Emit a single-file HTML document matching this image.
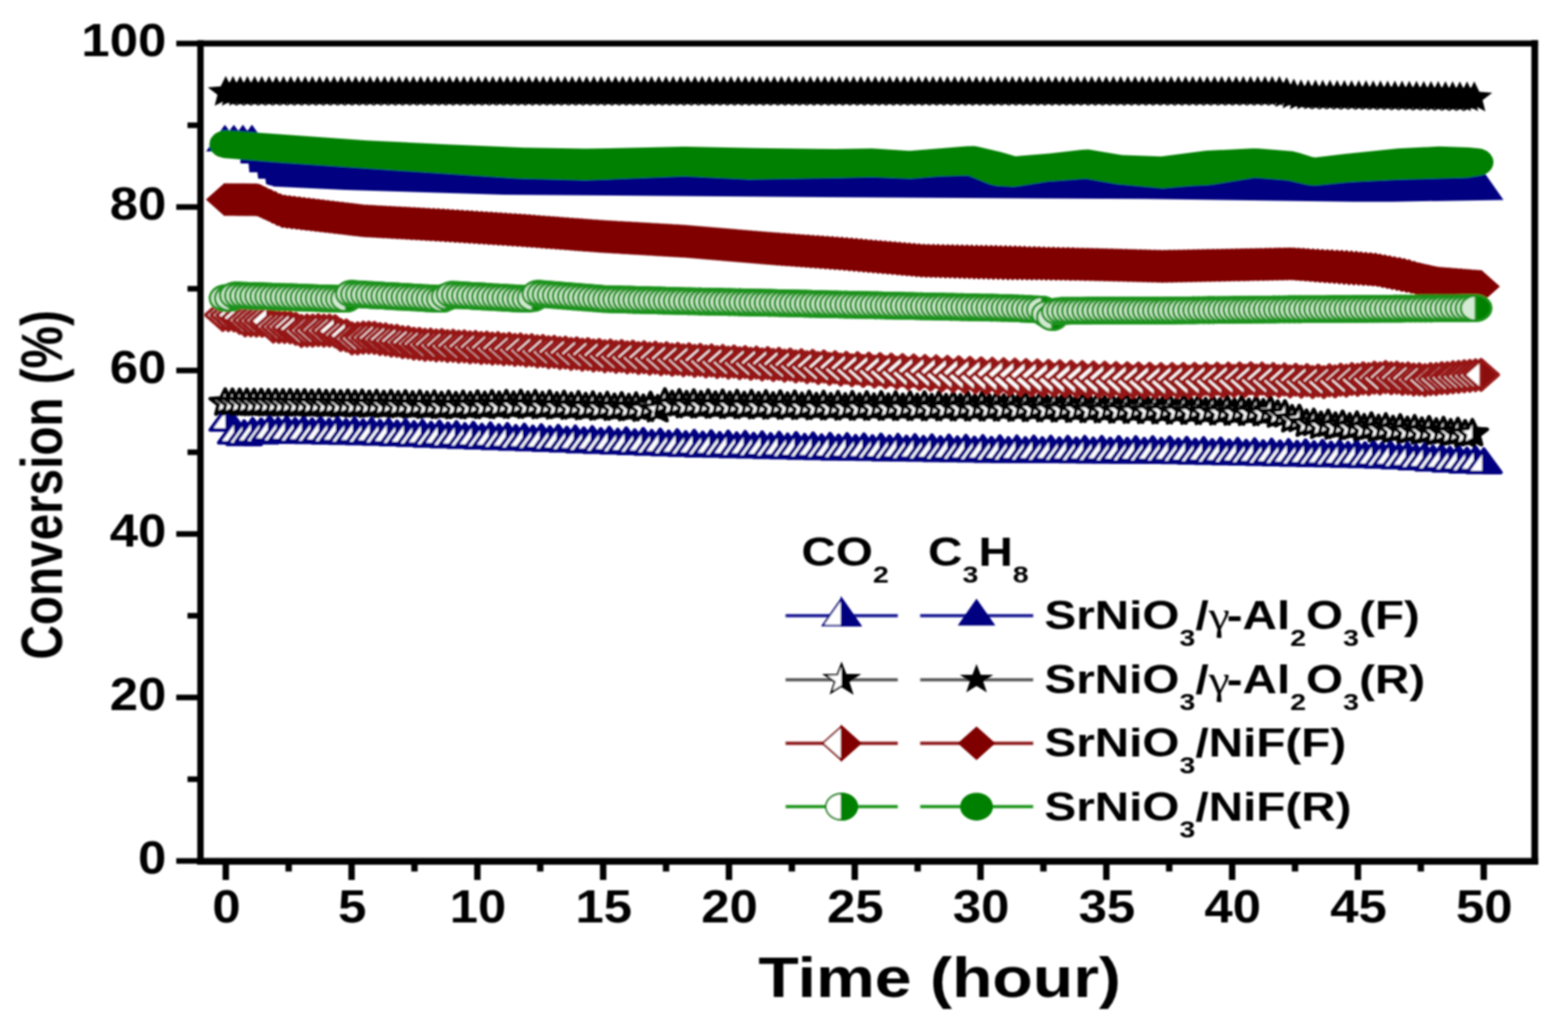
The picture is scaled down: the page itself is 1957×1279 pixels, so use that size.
<!DOCTYPE html>
<html><head><meta charset="utf-8"><title>Conversion vs Time</title>
<style>
html,body{margin:0;padding:0;background:#fff;}
body{width:1957px;height:1279px;overflow:hidden;}
svg{display:block;}
text{font-family:"Liberation Sans", Arial, Helvetica, sans-serif;font-weight:bold;fill:#000;}
</style></head><body>
<svg width="1957" height="1279" viewBox="0 0 1957 1279">
<defs><clipPath id="cr"><rect x="0" y="-40" width="40" height="80"/></clipPath><g id="hT" stroke="#000080" stroke-width="4.5" stroke-linejoin="round"><polygon fill="#fff" points="0,-14.5 21.2,14.5 -21.2,14.5"/><polygon fill="#000080" points="0,-14.5 21.2,14.5 0,14.5"/></g>
<g id="hS" stroke="#000" stroke-width="4.6" stroke-linejoin="round"><polygon fill="#fff" points="0,-17.1 5.2,-6.2 18.6,-5.3 8.4,2.4 11.5,13.8 0,7.7 -11.5,13.8 -8.4,2.4 -18.6,-5.3 -5.2,-6.2"/><polygon fill="#000" clip-path="url(#cr)" points="0,-17.1 5.2,-6.2 18.6,-5.3 8.4,2.4 11.5,13.8 0,7.7 -11.5,13.8 -8.4,2.4 -18.6,-5.3 -5.2,-6.2"/></g>
<g id="hD" stroke="#961414" stroke-width="4.3" stroke-linejoin="round"><polygon fill="#fff" points="0,-18.9 21.4,0 0,18.9 -21.4,0"/><polygon fill="#8c0a0a" points="0,-18.9 21.4,0 0,18.9"/></g>
<g id="hC" stroke="#1c921c" stroke-width="3.2"><ellipse fill="#d2ebd2" rx="18.9" ry="15.700000000000001"/><path fill="#008000" d="M0,-15.7 A18.9,15.700000000000001 0 0 1 0,15.7 Z"/></g>
<polygon id="fS" points="0,-20.6 6.4,-7.7 22.5,-6.4 10.4,2.9 13.9,16.7 0,9.5 -13.9,16.7 -10.4,2.9 -22.5,-6.4 -6.4,-7.7"/></defs>
<rect width="100%" height="100%" fill="#fff"/>
<filter id="soft" filterUnits="userSpaceOnUse" x="0" y="0" width="1957" height="1279"><feGaussianBlur stdDeviation="1.1"/></filter>
<g id="data" filter="url(#soft)">
<g><use href="#hT" x="283.5" y="522"/>
<use href="#hT" x="294.1" y="538"/>
<use href="#hT" x="304.7" y="540"/>
<use href="#hT" x="315.3" y="537.2"/>
<use href="#hT" x="325.9" y="537.7"/>
<use href="#hT" x="336.5" y="534.5"/>
<use href="#hT" x="347.1" y="536.8"/>
<use href="#hT" x="357.7" y="535"/>
<use href="#hT" x="368.3" y="537.2"/>
<use href="#hT" x="378.9" y="535.4"/>
<use href="#hT" x="389.5" y="537.6"/>
<use href="#hT" x="400.1" y="535.8"/>
<use href="#hT" x="410.7" y="538"/>
<use href="#hT" x="421.3" y="536.2"/>
<use href="#hT" x="431.9" y="538.4"/>
<use href="#hT" x="442.5" y="536.6"/>
<use href="#hT" x="453.1" y="538.8"/>
<use href="#hT" x="463.7" y="537.1"/>
<use href="#hT" x="474.3" y="539.5"/>
<use href="#hT" x="484.9" y="537.9"/>
<use href="#hT" x="495.5" y="540.3"/>
<use href="#hT" x="506.1" y="538.7"/>
<use href="#hT" x="516.7" y="541.1"/>
<use href="#hT" x="527.3" y="539.5"/>
<use href="#hT" x="537.9" y="541.9"/>
<use href="#hT" x="548.4" y="540.3"/>
<use href="#hT" x="559" y="542.7"/>
<use href="#hT" x="569.6" y="541.1"/>
<use href="#hT" x="580.2" y="543.5"/>
<use href="#hT" x="590.8" y="541.9"/>
<use href="#hT" x="601.4" y="544.3"/>
<use href="#hT" x="612" y="542.6"/>
<use href="#hT" x="622.6" y="545"/>
<use href="#hT" x="633.2" y="543.4"/>
<use href="#hT" x="643.8" y="545.8"/>
<use href="#hT" x="654.4" y="544.2"/>
<use href="#hT" x="665" y="546.6"/>
<use href="#hT" x="675.6" y="544.9"/>
<use href="#hT" x="686.2" y="547.3"/>
<use href="#hT" x="696.8" y="545.7"/>
<use href="#hT" x="707.4" y="548.1"/>
<use href="#hT" x="718" y="546.5"/>
<use href="#hT" x="728.6" y="548.9"/>
<use href="#hT" x="739.2" y="547.3"/>
<use href="#hT" x="749.8" y="549.7"/>
<use href="#hT" x="760.4" y="548.1"/>
<use href="#hT" x="771" y="550.5"/>
<use href="#hT" x="781.6" y="548.9"/>
<use href="#hT" x="792.2" y="551.3"/>
<use href="#hT" x="802.8" y="549.6"/>
<use href="#hT" x="813.4" y="552"/>
<use href="#hT" x="824" y="550.4"/>
<use href="#hT" x="834.6" y="552.8"/>
<use href="#hT" x="845.2" y="551.2"/>
<use href="#hT" x="855.8" y="553.6"/>
<use href="#hT" x="866.4" y="551.9"/>
<use href="#hT" x="877" y="554.2"/>
<use href="#hT" x="887.6" y="552.4"/>
<use href="#hT" x="898.2" y="554.6"/>
<use href="#hT" x="908.8" y="552.9"/>
<use href="#hT" x="919.4" y="555.1"/>
<use href="#hT" x="930" y="553.3"/>
<use href="#hT" x="940.6" y="555.6"/>
<use href="#hT" x="951.2" y="553.8"/>
<use href="#hT" x="961.8" y="556"/>
<use href="#hT" x="972.4" y="554.3"/>
<use href="#hT" x="983" y="556.5"/>
<use href="#hT" x="993.6" y="554.7"/>
<use href="#hT" x="1004.2" y="557"/>
<use href="#hT" x="1014.8" y="555.2"/>
<use href="#hT" x="1025.4" y="557.5"/>
<use href="#hT" x="1036" y="555.7"/>
<use href="#hT" x="1046.6" y="557.9"/>
<use href="#hT" x="1057.2" y="556.1"/>
<use href="#hT" x="1067.8" y="558.3"/>
<use href="#hT" x="1078.3" y="556.4"/>
<use href="#hT" x="1088.9" y="558.6"/>
<use href="#hT" x="1099.5" y="556.7"/>
<use href="#hT" x="1110.1" y="558.9"/>
<use href="#hT" x="1120.7" y="557"/>
<use href="#hT" x="1131.3" y="559.2"/>
<use href="#hT" x="1141.9" y="557.3"/>
<use href="#hT" x="1152.5" y="559.5"/>
<use href="#hT" x="1163.1" y="557.6"/>
<use href="#hT" x="1173.7" y="559.8"/>
<use href="#hT" x="1184.3" y="557.9"/>
<use href="#hT" x="1194.9" y="560.1"/>
<use href="#hT" x="1205.5" y="558.2"/>
<use href="#hT" x="1216.1" y="560.4"/>
<use href="#hT" x="1226.7" y="558.5"/>
<use href="#hT" x="1237.3" y="560.7"/>
<use href="#hT" x="1247.9" y="558.8"/>
<use href="#hT" x="1258.5" y="561"/>
<use href="#hT" x="1269.1" y="559"/>
<use href="#hT" x="1279.7" y="561.1"/>
<use href="#hT" x="1290.3" y="559.2"/>
<use href="#hT" x="1300.9" y="561.2"/>
<use href="#hT" x="1311.5" y="559.3"/>
<use href="#hT" x="1322.1" y="561.3"/>
<use href="#hT" x="1332.7" y="559.4"/>
<use href="#hT" x="1343.3" y="561.4"/>
<use href="#hT" x="1353.9" y="559.5"/>
<use href="#hT" x="1364.5" y="561.5"/>
<use href="#hT" x="1375.1" y="559.6"/>
<use href="#hT" x="1385.7" y="561.7"/>
<use href="#hT" x="1396.3" y="559.7"/>
<use href="#hT" x="1406.9" y="561.8"/>
<use href="#hT" x="1417.5" y="559.8"/>
<use href="#hT" x="1428.1" y="561.9"/>
<use href="#hT" x="1438.7" y="559.9"/>
<use href="#hT" x="1449.3" y="562"/>
<use href="#hT" x="1459.9" y="560.2"/>
<use href="#hT" x="1470.5" y="562.4"/>
<use href="#hT" x="1481.1" y="560.7"/>
<use href="#hT" x="1491.7" y="562.9"/>
<use href="#hT" x="1502.3" y="561.1"/>
<use href="#hT" x="1512.9" y="563.4"/>
<use href="#hT" x="1523.5" y="561.6"/>
<use href="#hT" x="1534.1" y="563.8"/>
<use href="#hT" x="1544.7" y="562.1"/>
<use href="#hT" x="1555.3" y="564.3"/>
<use href="#hT" x="1565.9" y="562.5"/>
<use href="#hT" x="1576.5" y="564.8"/>
<use href="#hT" x="1587.1" y="563"/>
<use href="#hT" x="1597.6" y="565.2"/>
<use href="#hT" x="1608.2" y="563.5"/>
<use href="#hT" x="1618.8" y="565.7"/>
<use href="#hT" x="1629.4" y="563.9"/>
<use href="#hT" x="1640" y="566.1"/>
<use href="#hT" x="1650.6" y="564.4"/>
<use href="#hT" x="1661.2" y="566.6"/>
<use href="#hT" x="1671.8" y="564.8"/>
<use href="#hT" x="1682.4" y="567"/>
<use href="#hT" x="1693" y="565.2"/>
<use href="#hT" x="1703.6" y="567.4"/>
<use href="#hT" x="1714.2" y="565.7"/>
<use href="#hT" x="1724.8" y="567.9"/>
<use href="#hT" x="1735.4" y="566.3"/>
<use href="#hT" x="1746" y="569"/>
<use href="#hT" x="1756.6" y="567.6"/>
<use href="#hT" x="1767.2" y="570.3"/>
<use href="#hT" x="1777.8" y="569"/>
<use href="#hT" x="1788.4" y="571.7"/>
<use href="#hT" x="1799" y="570.3"/>
<use href="#hT" x="1809.6" y="573"/>
<use href="#hT" x="1820.2" y="571.7"/>
<use href="#hT" x="1830.8" y="574.2"/>
<use href="#hT" x="1841.4" y="572.6"/>
<use href="#hT" x="1852" y="575"/></g>
<path fill="#000080" d="M257.2,189 L280.2,156.2 L281.2,156.2 L286.2,163.3 L291.2,156.5 L292.2,155.9 L297.2,163.1 L298.2,162.5 L303.2,155.6 L308.2,162.8 L309.2,162.9 L314.2,155.8 L315.2,156.6 L333.2,182.3 L334.2,181.9 L335.2,182.5 L342.2,192.5 L343.2,192.1 L345.2,189.8 L352.2,199.8 L355.2,196.8 L356.2,198.2 L357.2,198.5 L358.2,197.7 L359.2,199.1 L360.2,199.4 L361.2,198.6 L362.2,200 L363.2,200.3 L364.2,199.5 L365.2,200.9 L366.2,200.7 L367.2,199.9 L368.2,201.3 L370.2,200 L371.2,201.4 L373.2,200.1 L374.2,201.6 L376.2,200.3 L377.2,201.7 L379.2,200.4 L380.2,201.8 L382.2,200.5 L383.2,202 L385.2,200.7 L386.2,202.1 L388.2,200.8 L389.2,202.2 L391.2,200.9 L392.2,202.3 L394.2,201.1 L395.2,202.5 L397.2,201.2 L398.2,202.6 L400.2,201.3 L401.2,202.7 L403.2,201.5 L404.2,202.9 L406.2,201.6 L407.2,203 L409.2,201.7 L410.2,203.1 L412.2,201.8 L413.2,203.3 L415.2,202 L416.2,203.4 L418.2,202.1 L419.2,203.5 L421.2,202.2 L422.2,203.7 L424.2,202.4 L425.2,203.8 L427.2,202.5 L428.2,203.9 L430.2,202.6 L431.2,204.1 L433.2,202.8 L434.2,204.2 L435.2,203.9 L436.2,202.9 L437.2,204.3 L438.2,204 L439.2,203 L440.2,204.5 L441.2,204.2 L442.2,203.2 L443.2,204.6 L444.2,204.3 L445.2,203.3 L446.2,204.7 L447.2,204.5 L448.2,203.4 L449.2,204.9 L450.2,204.6 L451.2,203.6 L452.2,205 L453.2,204.7 L454.2,203.7 L455.2,205.1 L456.2,204.8 L457.2,203.8 L458.2,205.2 L459.2,204.9 L460.2,203.9 L461.2,205.3 L462.2,205 L463.2,204 L464.2,205.4 L465.2,205.1 L466.2,204 L467.2,205.5 L468.2,205.2 L469.2,204.1 L470.2,205.5 L471.2,205.3 L472.2,204.2 L473.2,205.6 L474.2,205.4 L475.2,204.3 L476.2,205.7 L477.2,205.5 L478.2,204.4 L479.2,205.8 L480.2,205.5 L481.2,204.5 L482.2,205.9 L483.2,205.6 L484.2,204.5 L485.2,206 L486.2,205.7 L487.2,204.6 L488.2,206.1 L489.2,205.8 L490.2,204.7 L491.2,206.1 L492.2,205.9 L493.2,204.8 L494.2,206.2 L495.2,206 L496.2,204.9 L497.2,206.3 L498.2,206.1 L499.2,205 L500.2,206.4 L501.2,206.2 L502.2,205.1 L503.2,206.5 L504.2,206.3 L505.2,205.1 L506.2,206.6 L507.2,206.4 L508.2,205.2 L509.2,206.6 L510.2,206.5 L511.2,205.3 L512.2,206.7 L513.2,206.5 L514.2,205.4 L515.2,206.8 L516.2,206.6 L517.2,205.5 L518.2,206.9 L519.2,206.7 L520.2,205.6 L521.2,207 L522.2,206.8 L523.2,205.6 L524.2,207.1 L525.2,206.9 L526.2,205.7 L527.2,207.2 L528.2,207 L529.2,205.8 L530.2,207.2 L531.2,207.1 L532.2,205.9 L533.2,207.3 L534.2,207.2 L535.2,206 L536.2,207.4 L537.2,207.3 L538.2,206.1 L539.2,207.5 L540.2,207.4 L541.2,206.2 L542.2,207.6 L543.2,207.5 L544.2,206.2 L545.2,207.7 L546.2,207.5 L547.2,206.3 L548.2,207.8 L549.2,207.6 L550.2,206.4 L551.2,207.8 L552.2,207.7 L553.2,206.5 L554.2,207.9 L555.2,207.8 L556.2,206.6 L557.2,208 L558.2,207.9 L559.2,206.7 L560.2,208.1 L561.2,208 L562.2,206.8 L563.2,208.2 L564.2,208.1 L565.2,206.9 L566.2,208.3 L567.2,208.2 L568.2,207 L569.2,208.4 L570.2,208.3 L571.2,207 L572.2,208.5 L573.2,208.4 L574.2,207.1 L575.2,208.6 L576.2,208.5 L577.2,207.2 L578.2,208.7 L579.2,208.6 L580.2,207.3 L581.2,208.8 L582.2,208.7 L583.2,207.4 L584.2,208.8 L585.2,208.8 L586.2,207.5 L587.2,208.9 L588.2,208.9 L589.2,207.6 L590.2,209 L591.2,209 L592.2,207.7 L593.2,209.1 L594.2,209.1 L595.2,207.8 L596.2,209.2 L597.2,209.2 L598.2,207.9 L599.2,209.3 L600.2,209.3 L601.2,208 L602.2,209.4 L603.2,209.4 L604.2,208.1 L605.2,209.5 L606.2,209.5 L607.2,208.2 L608.2,209.6 L609.2,209.6 L610.2,208.3 L611.2,209.7 L612.2,209.7 L613.2,208.4 L614.2,209.8 L615.2,209.8 L616.2,208.5 L617.2,209.9 L618.2,209.9 L619.2,208.5 L620.2,210 L621.2,210 L622.2,208.6 L623.2,210.1 L624.2,210.1 L625.2,208.7 L626.2,210.2 L627.2,210.2 L628.2,208.8 L629.2,210.3 L630.2,210.3 L631.2,208.9 L632.2,210.3 L633.2,210.4 L634.2,209 L635.2,210.4 L636.2,210.5 L637.2,209.1 L638.2,210.5 L639.2,210.6 L640.2,209.2 L641.2,210.6 L642.2,210.7 L643.2,209.3 L644.2,210.7 L645.2,210.8 L646.2,209.4 L647.2,210.8 L648.2,210.9 L649.2,209.5 L650.2,210.9 L651.2,210.9 L652.2,209.5 L653.2,210.9 L654.2,211 L655.2,209.5 L656.2,211 L657.2,211 L658.2,209.6 L659.2,211 L660.2,211 L661.2,209.6 L662.2,211 L663.2,211 L664.2,209.6 L665.2,211 L666.2,211.1 L667.2,209.6 L668.2,211 L669.2,211.1 L670.2,209.7 L671.2,211.1 L672.2,211.1 L673.2,209.7 L674.2,211.1 L675.2,211.1 L676.2,209.7 L677.2,211.1 L678.2,211.2 L679.2,209.7 L680.2,211.1 L681.2,211.2 L682.2,209.8 L683.2,211.1 L684.2,211.2 L685.2,209.8 L686.2,211.2 L687.2,211.2 L688.2,209.8 L689.2,211.2 L690.2,211.3 L691.2,209.8 L692.2,211.2 L693.2,211.3 L694.2,209.9 L695.2,211.2 L696.2,211.3 L697.2,209.9 L698.2,211.2 L699.2,211.3 L700.2,209.9 L701.2,211.3 L702.2,211.4 L703.2,209.9 L704.2,211.3 L705.2,211.4 L706.2,210 L707.2,211.3 L708.2,211.4 L709.2,210 L710.2,211.3 L711.2,211.4 L712.2,210 L713.2,211.3 L714.2,211.5 L715.2,210 L716.2,211.4 L717.2,211.5 L718.2,210.1 L719.2,211.4 L720.2,211.5 L721.2,210.1 L722.2,211.4 L723.2,211.5 L724.2,210.1 L725.2,211.4 L726.2,211.6 L727.2,210.1 L728.2,211.4 L729.2,211.6 L730.2,210.2 L731.2,211.5 L732.2,211.6 L733.2,210.2 L734.2,211.5 L735.2,211.6 L736.2,210.2 L737.2,211.5 L738.2,211.7 L739.2,210.2 L740.2,211.5 L741.2,211.7 L742.2,210.3 L743.2,211.5 L744.2,211.7 L745.2,210.3 L746.2,211.6 L747.2,211.7 L748.2,210.3 L749.2,211.6 L750.2,211.8 L751.2,210.3 L752.2,211.6 L753.2,211.8 L754.2,210.4 L755.2,211.6 L756.2,211.8 L757.2,210.4 L758.2,211.6 L759.2,211.9 L760.2,210.4 L761.2,211.7 L762.2,211.9 L763.2,210.5 L764.2,211.7 L765.2,211.9 L766.2,210.5 L767.2,211.7 L768.2,211.9 L769.2,210.5 L770.2,211.7 L771.2,212 L772.2,210.5 L773.2,211.7 L774.2,212 L775.2,210.6 L776.2,211.8 L777.2,212 L778.2,210.6 L779.2,211.8 L780.2,212 L781.2,210.6 L782.2,211.8 L783.2,212.1 L784.2,210.6 L785.2,211.8 L786.2,212.1 L787.2,210.7 L788.2,211.8 L789.2,212.1 L790.2,210.7 L791.2,211.9 L792.2,212.1 L793.2,210.7 L794.2,211.9 L795.2,212.2 L796.2,210.7 L797.2,211.9 L798.2,212.2 L799.2,210.8 L800.2,211.9 L801.2,212.2 L802.2,210.8 L803.2,211.9 L804.2,212.2 L805.2,210.8 L806.2,211.9 L807.2,212.3 L808.2,210.8 L809.2,212 L810.2,212.3 L811.2,210.9 L812.2,212 L813.2,212.3 L814.2,210.9 L815.2,212 L816.2,212.3 L817.2,210.9 L818.2,212 L819.2,212.4 L820.2,210.9 L821.2,212 L822.2,212.4 L823.2,211 L824.2,212.1 L825.2,212.4 L826.2,211 L827.2,212.1 L828.2,212.4 L829.2,211 L830.2,212.1 L831.2,212.5 L832.2,211 L834.2,212.5 L835.2,211.1 L837.2,212.5 L838.2,211.1 L840.2,212.5 L841.2,211.1 L843.2,212.6 L844.2,211.1 L846.2,212.6 L847.2,211.2 L849.2,212.6 L850.2,211.2 L852.2,212.6 L853.2,211.2 L855.2,212.7 L856.2,211.2 L858.2,212.7 L859.2,211.3 L861.2,212.7 L862.2,211.3 L864.2,212.7 L865.2,211.3 L867.2,212.8 L868.2,211.3 L870.2,212.8 L871.2,211.4 L873.2,212.8 L874.2,211.4 L876.2,212.8 L877.2,211.4 L879.2,212.9 L880.2,211.4 L882.2,212.9 L883.2,211.5 L885.2,212.9 L886.2,211.5 L888.2,212.9 L889.2,211.5 L891.2,213 L892.2,211.5 L894.2,213 L895.2,211.6 L897.2,213 L898.2,211.6 L900.2,213 L901.2,211.6 L903.2,213.1 L904.2,211.6 L906.2,213.1 L907.2,211.7 L909.2,213.1 L910.2,211.7 L912.2,213.1 L913.2,211.7 L915.2,213.2 L916.2,211.7 L918.2,213.2 L919.2,211.8 L921.2,213.2 L922.2,211.8 L924.2,213.2 L925.2,211.8 L927.2,213.3 L928.2,211.8 L930.2,213.3 L931.2,211.9 L933.2,213.3 L934.2,211.9 L936.2,213.3 L937.2,211.9 L939.2,213.4 L940.2,211.9 L942.2,213.4 L943.2,212 L945.2,213.4 L946.2,212 L948.2,213.4 L949.2,212 L951.2,213.5 L952.2,212 L954.2,213.5 L955.2,212.1 L957.2,213.5 L958.2,212.1 L960.2,213.6 L961.2,212.1 L963.2,213.6 L964.2,212.2 L966.2,213.6 L967.2,212.2 L969.2,213.6 L970.2,212.2 L972.2,213.7 L973.2,212.2 L975.2,213.7 L976.2,212.3 L978.2,213.7 L979.2,212.3 L981.2,213.7 L982.2,212.3 L984.2,213.8 L985.2,212.3 L987.2,213.8 L988.2,212.4 L990.2,213.8 L991.2,212.4 L993.2,213.8 L994.2,212.4 L996.2,213.9 L997.2,212.4 L999.2,213.9 L1000.2,212.5 L1002.2,213.9 L1003.2,212.5 L1005.2,213.9 L1006.2,212.5 L1008.2,214 L1009.2,212.5 L1011.2,214 L1012.2,212.6 L1014.2,214 L1015.2,212.6 L1017.2,214 L1018.2,212.6 L1020.2,214.1 L1021.2,212.6 L1023.2,214.1 L1024.2,212.7 L1026.2,214.1 L1027.2,212.7 L1029.2,214.1 L1030.2,212.7 L1032.2,214.2 L1033.2,212.7 L1035.2,214.2 L1036.2,212.8 L1038.2,214.2 L1039.2,212.8 L1041.2,214.2 L1042.2,212.8 L1044.2,214.3 L1045.2,212.8 L1047.2,214.3 L1048.2,212.9 L1050.2,214.3 L1051.2,212.9 L1053.2,214.3 L1054.2,212.9 L1056.2,214.4 L1057.2,212.9 L1059.2,214.4 L1060.2,212.9 L1062.2,214.4 L1063.2,213 L1065.2,214.4 L1066.2,213 L1068.2,214.4 L1069.2,213 L1071.2,214.5 L1072.2,213 L1074.2,214.5 L1075.2,213 L1077.2,214.5 L1078.2,213.1 L1080.2,214.5 L1081.2,213.1 L1083.2,214.5 L1084.2,213.1 L1086.2,214.6 L1087.2,213.1 L1089.2,214.6 L1090.2,213.1 L1092.2,214.6 L1093.2,213.2 L1095.2,214.6 L1096.2,213.2 L1098.2,214.6 L1099.2,213.2 L1101.2,214.7 L1102.2,213.2 L1104.2,214.7 L1105.2,213.2 L1107.2,214.7 L1108.2,213.3 L1110.2,214.7 L1111.2,213.3 L1113.2,214.7 L1114.2,213.3 L1116.2,214.8 L1117.2,213.3 L1119.2,214.8 L1120.2,213.3 L1122.2,214.8 L1123.2,213.4 L1125.2,214.8 L1126.2,213.4 L1128.2,214.8 L1129.2,213.4 L1131.2,214.9 L1132.2,213.4 L1134.2,214.9 L1135.2,213.4 L1137.2,214.9 L1138.2,213.5 L1140.2,214.9 L1141.2,213.5 L1143.2,214.9 L1144.2,213.5 L1146.2,215 L1147.2,213.5 L1149.2,215 L1150.2,213.5 L1152.2,215 L1153.2,213.6 L1155.2,215 L1156.2,213.6 L1158.2,215 L1159.2,213.6 L1161.2,215.1 L1162.2,213.6 L1164.2,215.1 L1165.2,213.6 L1167.2,215.1 L1168.2,213.7 L1170.2,215.1 L1171.2,213.7 L1173.2,215.1 L1174.2,213.7 L1176.2,215.2 L1177.2,213.7 L1179.2,215.2 L1180.2,213.7 L1182.2,215.2 L1183.2,213.8 L1185.2,215.2 L1186.2,213.8 L1188.2,215.2 L1189.2,213.8 L1191.2,215.3 L1192.2,213.8 L1194.2,215.3 L1195.2,213.9 L1197.2,215.3 L1198.2,213.9 L1200.2,215.3 L1201.2,213.9 L1203.2,215.3 L1204.2,213.9 L1206.2,215.4 L1207.2,213.9 L1209.2,215.4 L1210.2,214 L1212.2,215.4 L1213.2,214 L1215.2,215.4 L1216.2,214 L1218.2,215.4 L1219.2,214 L1221.2,215.5 L1222.2,214 L1223.2,214.4 L1224.2,215.5 L1225.2,214.1 L1226.2,214.4 L1227.2,215.5 L1228.2,214.1 L1229.2,214.4 L1230.2,215.5 L1231.2,214.1 L1232.2,214.4 L1233.2,215.5 L1234.2,214.1 L1235.2,214.4 L1236.2,215.6 L1237.2,214.1 L1238.2,214.5 L1239.2,215.6 L1240.2,214.2 L1241.2,214.5 L1242.2,215.6 L1243.2,214.2 L1244.2,214.5 L1245.2,215.6 L1246.2,214.2 L1247.2,214.5 L1248.2,215.6 L1249.2,214.2 L1250.2,214.5 L1251.2,215.7 L1252.2,214.2 L1253.2,214.5 L1254.2,215.7 L1255.2,214.3 L1256.2,214.5 L1257.2,215.7 L1258.2,214.3 L1259.2,214.6 L1260.2,215.7 L1261.2,214.3 L1262.2,214.6 L1263.2,215.7 L1264.2,214.3 L1265.2,214.6 L1266.2,215.8 L1267.2,214.3 L1268.2,214.6 L1269.2,215.8 L1270.2,214.4 L1271.2,214.6 L1272.2,215.8 L1273.2,214.4 L1274.2,214.6 L1275.2,215.8 L1276.2,214.4 L1277.2,214.6 L1278.2,215.8 L1279.2,214.4 L1280.2,214.7 L1281.2,215.9 L1282.2,214.4 L1283.2,214.7 L1284.2,215.9 L1285.2,214.5 L1286.2,214.7 L1287.2,215.9 L1288.2,214.5 L1289.2,214.7 L1290.2,215.9 L1291.2,214.5 L1292.2,214.7 L1293.2,215.9 L1294.2,214.5 L1295.2,214.7 L1296.2,216 L1297.2,214.5 L1298.2,214.7 L1299.2,216 L1300.2,214.6 L1301.2,214.8 L1302.2,216 L1303.2,214.6 L1304.2,214.8 L1305.2,216 L1306.2,214.6 L1307.2,214.8 L1308.2,216 L1309.2,214.6 L1310.2,214.8 L1311.2,216.1 L1312.2,214.6 L1313.2,214.8 L1314.2,216.1 L1315.2,214.7 L1316.2,214.8 L1317.2,216.1 L1318.2,214.7 L1319.2,214.8 L1320.2,216.1 L1321.2,214.7 L1322.2,214.9 L1323.2,216.1 L1324.2,214.7 L1325.2,214.9 L1326.2,216.2 L1327.2,214.7 L1328.2,214.9 L1329.2,216.2 L1330.2,214.8 L1331.2,214.9 L1332.2,216.2 L1333.2,214.8 L1334.2,214.9 L1335.2,216.2 L1336.2,214.8 L1337.2,214.9 L1338.2,216.2 L1339.2,214.8 L1340.2,214.9 L1341.2,216.3 L1342.2,214.8 L1343.2,215 L1344.2,216.3 L1345.2,214.9 L1346.2,215 L1347.2,216.3 L1348.2,214.9 L1349.2,215 L1350.2,216.3 L1351.2,214.9 L1352.2,215 L1353.2,216.3 L1354.2,214.9 L1355.2,215 L1356.2,216.4 L1357.2,214.9 L1358.2,215 L1359.2,216.4 L1360.2,215 L1361.2,215 L1362.2,216.4 L1363.2,215 L1364.2,215.1 L1365.2,216.4 L1366.2,215 L1367.2,215.1 L1368.2,216.4 L1369.2,215 L1370.2,215.1 L1371.2,216.5 L1372.2,215 L1373.2,215.1 L1374.2,216.5 L1375.2,215.1 L1376.2,215.1 L1377.2,216.5 L1378.2,215.1 L1379.2,215.1 L1380.2,216.5 L1381.2,215.1 L1382.2,215.1 L1383.2,216.5 L1384.2,215.1 L1385.2,215.2 L1386.2,216.6 L1387.2,215.1 L1388.2,215.2 L1389.2,216.6 L1390.2,215.2 L1391.2,215.2 L1392.2,216.6 L1393.2,215.2 L1394.2,215.2 L1395.2,216.6 L1396.2,215.2 L1397.2,215.2 L1398.2,216.6 L1399.2,215.2 L1400.2,215.2 L1401.2,216.7 L1402.2,215.2 L1403.2,215.2 L1404.2,216.7 L1405.2,215.3 L1406.2,215.3 L1407.2,216.7 L1408.2,215.3 L1409.2,215.3 L1410.2,216.7 L1411.2,215.3 L1412.2,215.3 L1413.2,216.7 L1414.2,215.3 L1415.2,215.3 L1416.2,216.7 L1417.2,215.3 L1418.2,215.3 L1419.2,216.7 L1420.2,215.4 L1421.2,215.3 L1422.2,216.8 L1423.2,215.4 L1424.2,215.3 L1425.2,216.8 L1426.2,215.4 L1427.2,215.4 L1428.2,216.8 L1429.2,215.4 L1430.2,215.4 L1431.2,216.8 L1432.2,215.4 L1433.2,215.4 L1434.2,216.8 L1435.2,215.5 L1436.2,215.4 L1437.2,216.8 L1438.2,215.5 L1439.2,215.4 L1440.2,216.8 L1441.2,215.5 L1442.2,215.4 L1443.2,216.9 L1444.2,215.5 L1445.2,215.4 L1446.2,216.9 L1447.2,215.5 L1448.2,215.5 L1449.2,216.9 L1450.2,215.6 L1451.2,215.5 L1452.2,216.9 L1453.2,215.6 L1454.2,215.5 L1455.2,216.9 L1456.2,215.6 L1457.2,215.5 L1458.2,217 L1459.2,215.7 L1460.2,215.6 L1461.2,217 L1462.2,215.7 L1463.2,215.6 L1464.2,217 L1465.2,215.8 L1466.2,215.7 L1467.2,217.1 L1468.2,215.8 L1469.2,215.7 L1470.2,217.1 L1471.2,215.9 L1472.2,215.7 L1473.2,217.2 L1474.2,215.9 L1475.2,215.8 L1476.2,217.2 L1477.2,215.9 L1478.2,215.8 L1479.2,217.2 L1480.2,216 L1481.2,215.8 L1482.2,217.3 L1483.2,216 L1484.2,215.9 L1485.2,217.3 L1486.2,216.1 L1487.2,215.9 L1488.2,217.3 L1489.2,216.1 L1490.2,215.9 L1491.2,217.4 L1492.2,216.1 L1493.2,216 L1494.2,217.4 L1495.2,216.2 L1496.2,216 L1497.2,217.4 L1498.2,216.2 L1499.2,216.1 L1500.2,217.5 L1501.2,216.3 L1502.2,216.1 L1503.2,217.5 L1504.2,216.3 L1505.2,216.1 L1506.2,217.5 L1507.2,216.4 L1508.2,216.2 L1509.2,217.6 L1510.2,216.4 L1511.2,216.2 L1512.2,217.6 L1513.2,216.4 L1514.2,216.2 L1515.2,217.7 L1516.2,216.5 L1517.2,216.3 L1518.2,217.7 L1519.2,216.5 L1520.2,216.3 L1521.2,217.7 L1522.2,216.6 L1523.2,216.3 L1524.2,217.8 L1525.2,216.6 L1526.2,216.4 L1527.2,217.8 L1528.2,216.6 L1529.2,216.4 L1530.2,217.8 L1531.2,216.7 L1532.2,216.4 L1533.2,217.9 L1534.2,216.7 L1535.2,216.5 L1536.2,217.9 L1537.2,216.8 L1538.2,216.5 L1539.2,217.9 L1540.2,216.8 L1541.2,216.6 L1542.2,218 L1543.2,216.9 L1544.2,216.6 L1545.2,218 L1546.2,216.9 L1547.2,216.6 L1548.2,218 L1549.2,216.9 L1550.2,216.7 L1551.2,218.1 L1552.2,217 L1553.2,216.7 L1554.2,218.1 L1555.2,217 L1556.2,216.7 L1557.2,218.2 L1558.2,217.1 L1559.2,216.8 L1560.2,218.2 L1561.2,217.1 L1562.2,216.8 L1563.2,218.2 L1564.2,217.1 L1565.2,216.8 L1566.2,218.3 L1567.2,217.2 L1568.2,216.9 L1569.2,218.3 L1570.2,217.2 L1571.2,216.9 L1572.2,218.3 L1573.2,217.3 L1574.2,216.9 L1575.2,218.4 L1576.2,217.3 L1577.2,217 L1578.2,218.4 L1580.2,217 L1581.2,218.4 L1583.2,217.1 L1584.2,218.5 L1586.2,217.1 L1587.2,218.5 L1589.2,217.1 L1590.2,218.6 L1592.2,217.2 L1593.2,218.6 L1595.2,217.2 L1596.2,218.6 L1598.2,217.2 L1599.2,218.7 L1601.2,217.3 L1602.2,218.7 L1604.2,217.3 L1605.2,218.7 L1607.2,217.3 L1608.2,218.8 L1610.2,217.4 L1611.2,218.8 L1613.2,217.4 L1614.2,218.8 L1616.2,217.4 L1617.2,218.9 L1619.2,217.5 L1620.2,218.9 L1622.2,217.5 L1623.2,218.9 L1625.2,217.6 L1626.2,219 L1628.2,217.6 L1629.2,219 L1631.2,217.6 L1632.2,219.1 L1634.2,217.7 L1635.2,219.1 L1637.2,217.7 L1638.2,219.1 L1640.2,217.7 L1641.2,219.2 L1643.2,217.8 L1644.2,219.2 L1646.2,217.8 L1647.2,219.2 L1649.2,217.8 L1650.2,219.3 L1652.2,217.9 L1653.2,219.3 L1655.2,217.9 L1656.2,219.3 L1658.2,217.9 L1659.2,219.4 L1661.2,218 L1662.2,219.4 L1664.2,218 L1665.2,219.4 L1667.2,218.1 L1668.2,219.5 L1670.2,218.1 L1671.2,219.5 L1673.2,218.1 L1674.2,219.6 L1676.2,218.2 L1677.2,219.6 L1679.2,218.2 L1680.2,219.6 L1682.2,218.2 L1683.2,219.7 L1685.2,218.3 L1686.2,219.7 L1688.2,218.3 L1689.2,219.7 L1691.2,218.3 L1692.2,219.8 L1694.2,218.4 L1695.2,219.8 L1697.2,218.4 L1698.2,219.8 L1700.2,218.4 L1701.2,219.9 L1703.2,218.5 L1704.2,219.9 L1706.2,218.5 L1707.2,219.9 L1709.2,218.6 L1710.2,220 L1712.2,218.6 L1713.2,220 L1715.2,218.6 L1716.2,220 L1718.2,218.5 L1719.2,220 L1721.2,218.5 L1722.2,219.9 L1724.2,218.4 L1725.2,219.9 L1727.2,218.4 L1728.2,219.8 L1730.2,218.3 L1731.2,219.8 L1733.2,218.3 L1734.2,219.7 L1736.2,218.2 L1737.2,219.7 L1739.2,218.2 L1740.2,219.6 L1742.2,218.1 L1743.2,219.6 L1745.2,218.1 L1746.2,219.5 L1748.2,218 L1749.2,219.4 L1751.2,218 L1752.2,219.4 L1754.2,217.9 L1755.2,219.3 L1757.2,217.9 L1758.2,219.3 L1760.2,217.8 L1761.2,219.2 L1763.2,217.8 L1764.2,219.2 L1766.2,217.7 L1767.2,219.1 L1769.2,217.7 L1770.2,219.1 L1772.2,217.6 L1773.2,219 L1775.2,217.6 L1776.2,219 L1778.2,217.5 L1779.2,218.9 L1781.2,217.4 L1782.2,218.9 L1784.2,217.4 L1785.2,218.8 L1787.2,217.3 L1788.2,218.8 L1790.2,217.3 L1791.2,218.7 L1793.2,217.2 L1794.2,218.7 L1796.2,217.2 L1797.2,218.6 L1799.2,217.1 L1800.2,218.6 L1802.2,217.1 L1803.2,218.5 L1805.2,217 L1806.2,218.5 L1808.2,217 L1809.2,218.4 L1811.2,216.9 L1812.2,218.3 L1814.2,216.9 L1815.2,218.3 L1817.2,216.8 L1818.2,218.2 L1820.2,216.8 L1821.2,218.2 L1823.2,216.7 L1824.2,218.1 L1826.2,216.7 L1827.2,218.1 L1829.2,216.6 L1830.2,218 L1832.2,216.6 L1833.2,218 L1835.2,216.5 L1836.2,217.9 L1838.2,216.4 L1839.2,217.9 L1841.2,216.4 L1842.2,217.8 L1844.2,216.3 L1845.2,217.8 L1847.2,216.3 L1848.2,217.7 L1850.2,216.2 L1851.2,217.7 L1853.2,216.2 L1876.5,249.4 L1876.5,249.4 L1738.2,251.7 L1689.2,251.7 L1430.2,248.3 L1028.2,246 L629.2,243 L431.2,237 L341.2,232.7 L340.2,231.8 L338.2,231.8 L337.2,230.9 L335.2,230.9 L334.2,230 L332.2,230 L331.2,223 L322.2,223 L321.2,215 L311.2,215 L310.2,204 L300.2,204 L299.2,189 L257.2,189 Z"/>
<g><use href="#hS" x="281" y="502.8"/>
<use href="#hS" x="290" y="502.9"/>
<use href="#hS" x="299" y="503.1"/>
<use href="#hS" x="308" y="503"/>
<use href="#hS" x="317" y="503.3"/>
<use href="#hS" x="326" y="503.2"/>
<use href="#hS" x="335" y="503.6"/>
<use href="#hS" x="344" y="503.4"/>
<use href="#hS" x="353" y="503.8"/>
<use href="#hS" x="362" y="503.5"/>
<use href="#hS" x="371" y="504.1"/>
<use href="#hS" x="380" y="503.7"/>
<use href="#hS" x="389" y="504.4"/>
<use href="#hS" x="398" y="503.8"/>
<use href="#hS" x="407" y="504.6"/>
<use href="#hS" x="416" y="504"/>
<use href="#hS" x="425" y="504.9"/>
<use href="#hS" x="434" y="504.2"/>
<use href="#hS" x="442.9" y="505.1"/>
<use href="#hS" x="451.9" y="504.3"/>
<use href="#hS" x="460.9" y="505.4"/>
<use href="#hS" x="469.9" y="504.5"/>
<use href="#hS" x="478.9" y="505.7"/>
<use href="#hS" x="487.9" y="504.7"/>
<use href="#hS" x="496.9" y="506"/>
<use href="#hS" x="505.9" y="504.9"/>
<use href="#hS" x="514.9" y="506.3"/>
<use href="#hS" x="523.9" y="505.1"/>
<use href="#hS" x="532.9" y="506.6"/>
<use href="#hS" x="541.9" y="505.3"/>
<use href="#hS" x="550.9" y="506.9"/>
<use href="#hS" x="559.9" y="505.6"/>
<use href="#hS" x="568.9" y="507.1"/>
<use href="#hS" x="577.9" y="505.5"/>
<use href="#hS" x="586.9" y="507"/>
<use href="#hS" x="595.9" y="505.2"/>
<use href="#hS" x="604.9" y="506.8"/>
<use href="#hS" x="613.9" y="504.9"/>
<use href="#hS" x="622.9" y="506.6"/>
<use href="#hS" x="631.9" y="504.7"/>
<use href="#hS" x="640.9" y="506.5"/>
<use href="#hS" x="649.9" y="504.4"/>
<use href="#hS" x="658.9" y="506.6"/>
<use href="#hS" x="667.9" y="504.8"/>
<use href="#hS" x="676.9" y="507"/>
<use href="#hS" x="685.9" y="505.3"/>
<use href="#hS" x="694.9" y="507.5"/>
<use href="#hS" x="703.9" y="505.7"/>
<use href="#hS" x="712.9" y="507.9"/>
<use href="#hS" x="721.9" y="506.1"/>
<use href="#hS" x="730.9" y="508.3"/>
<use href="#hS" x="739.9" y="506.5"/>
<use href="#hS" x="748.8" y="508.8"/>
<use href="#hS" x="757.8" y="507"/>
<use href="#hS" x="766.8" y="509.2"/>
<use href="#hS" x="775.8" y="507.4"/>
<use href="#hS" x="784.8" y="509.6"/>
<use href="#hS" x="793.8" y="507.8"/>
<use href="#hS" x="802.8" y="510.4"/>
<use href="#hS" x="811.8" y="506.9"/>
<use href="#hS" x="820.8" y="511"/>
<use href="#hS" x="829.8" y="502.6"/>
<use href="#hS" x="838.8" y="505.7"/>
<use href="#hS" x="847.8" y="503.7"/>
<use href="#hS" x="856.8" y="505.9"/>
<use href="#hS" x="865.8" y="503.9"/>
<use href="#hS" x="874.8" y="506.1"/>
<use href="#hS" x="883.8" y="504.1"/>
<use href="#hS" x="892.8" y="506.4"/>
<use href="#hS" x="901.8" y="504.3"/>
<use href="#hS" x="910.8" y="506.7"/>
<use href="#hS" x="919.8" y="504.6"/>
<use href="#hS" x="928.8" y="506.9"/>
<use href="#hS" x="937.8" y="504.8"/>
<use href="#hS" x="946.8" y="507.2"/>
<use href="#hS" x="955.8" y="505"/>
<use href="#hS" x="964.8" y="507.5"/>
<use href="#hS" x="973.8" y="505.2"/>
<use href="#hS" x="982.8" y="507.7"/>
<use href="#hS" x="991.8" y="505.4"/>
<use href="#hS" x="1000.8" y="508"/>
<use href="#hS" x="1009.8" y="505.6"/>
<use href="#hS" x="1018.8" y="508.3"/>
<use href="#hS" x="1027.8" y="505.8"/>
<use href="#hS" x="1036.8" y="508.5"/>
<use href="#hS" x="1045.8" y="506"/>
<use href="#hS" x="1054.8" y="508.8"/>
<use href="#hS" x="1063.7" y="506.1"/>
<use href="#hS" x="1072.7" y="508.9"/>
<use href="#hS" x="1081.7" y="506.2"/>
<use href="#hS" x="1090.7" y="509"/>
<use href="#hS" x="1099.7" y="506.2"/>
<use href="#hS" x="1108.7" y="509.1"/>
<use href="#hS" x="1117.7" y="506.3"/>
<use href="#hS" x="1126.7" y="509.2"/>
<use href="#hS" x="1135.7" y="506.3"/>
<use href="#hS" x="1144.7" y="509.3"/>
<use href="#hS" x="1153.7" y="506.4"/>
<use href="#hS" x="1162.7" y="509.5"/>
<use href="#hS" x="1171.7" y="506.4"/>
<use href="#hS" x="1180.7" y="509.6"/>
<use href="#hS" x="1189.7" y="506.5"/>
<use href="#hS" x="1198.7" y="509.7"/>
<use href="#hS" x="1207.7" y="506.5"/>
<use href="#hS" x="1216.7" y="509.8"/>
<use href="#hS" x="1225.7" y="506.6"/>
<use href="#hS" x="1234.7" y="509.9"/>
<use href="#hS" x="1243.7" y="506.7"/>
<use href="#hS" x="1252.7" y="510"/>
<use href="#hS" x="1261.7" y="506.7"/>
<use href="#hS" x="1270.7" y="510.3"/>
<use href="#hS" x="1279.7" y="507"/>
<use href="#hS" x="1288.7" y="510.6"/>
<use href="#hS" x="1297.7" y="507.3"/>
<use href="#hS" x="1306.7" y="510.9"/>
<use href="#hS" x="1315.7" y="507.5"/>
<use href="#hS" x="1324.7" y="511.2"/>
<use href="#hS" x="1333.7" y="507.8"/>
<use href="#hS" x="1342.7" y="511.6"/>
<use href="#hS" x="1351.7" y="508.1"/>
<use href="#hS" x="1360.7" y="511.9"/>
<use href="#hS" x="1369.7" y="508.3"/>
<use href="#hS" x="1378.6" y="512.2"/>
<use href="#hS" x="1387.6" y="508.6"/>
<use href="#hS" x="1396.6" y="512.6"/>
<use href="#hS" x="1405.6" y="508.9"/>
<use href="#hS" x="1414.6" y="512.9"/>
<use href="#hS" x="1423.6" y="509.1"/>
<use href="#hS" x="1432.6" y="513.2"/>
<use href="#hS" x="1441.6" y="509.4"/>
<use href="#hS" x="1450.6" y="513.5"/>
<use href="#hS" x="1459.6" y="509.7"/>
<use href="#hS" x="1468.6" y="513.9"/>
<use href="#hS" x="1477.6" y="510.2"/>
<use href="#hS" x="1486.6" y="514.2"/>
<use href="#hS" x="1495.6" y="510.6"/>
<use href="#hS" x="1504.6" y="514.5"/>
<use href="#hS" x="1513.6" y="511"/>
<use href="#hS" x="1522.6" y="514.9"/>
<use href="#hS" x="1531.6" y="511.5"/>
<use href="#hS" x="1540.6" y="515.2"/>
<use href="#hS" x="1549.6" y="511.9"/>
<use href="#hS" x="1558.6" y="515.5"/>
<use href="#hS" x="1567.6" y="512.3"/>
<use href="#hS" x="1576.6" y="515.9"/>
<use href="#hS" x="1585.6" y="512.8"/>
<use href="#hS" x="1594.6" y="517.7"/>
<use href="#hS" x="1603.6" y="517.4"/>
<use href="#hS" x="1612.6" y="523.6"/>
<use href="#hS" x="1621.6" y="523.2"/>
<use href="#hS" x="1630.6" y="529.1"/>
<use href="#hS" x="1639.6" y="528.1"/>
<use href="#hS" x="1648.6" y="531.7"/>
<use href="#hS" x="1657.6" y="529.3"/>
<use href="#hS" x="1666.6" y="532.7"/>
<use href="#hS" x="1675.6" y="530.4"/>
<use href="#hS" x="1684.5" y="533.8"/>
<use href="#hS" x="1693.5" y="531.5"/>
<use href="#hS" x="1702.5" y="534.8"/>
<use href="#hS" x="1711.5" y="532.7"/>
<use href="#hS" x="1720.5" y="535.8"/>
<use href="#hS" x="1729.5" y="533.8"/>
<use href="#hS" x="1738.5" y="536.9"/>
<use href="#hS" x="1747.5" y="534.9"/>
<use href="#hS" x="1756.5" y="537.9"/>
<use href="#hS" x="1765.5" y="536"/>
<use href="#hS" x="1774.5" y="538.9"/>
<use href="#hS" x="1783.5" y="537.2"/>
<use href="#hS" x="1792.5" y="540"/>
<use href="#hS" x="1801.5" y="538.3"/>
<use href="#hS" x="1810.5" y="541"/>
<use href="#hS" x="1819.5" y="539.4"/>
<use href="#hS" x="1828.5" y="542.2"/>
<use href="#hS" x="1837.5" y="541"/></g>
<path fill="#000" d="M279.8,102.6 L1597.8,102.6 L1601.8,102.7 L1602.8,103.5 L1605.8,103.5 L1606.8,104.4 L1609.8,104.4 L1610.8,105.2 L1613.8,105.2 L1614.8,106.1 L1617.8,106.1 L1618.8,106.9 L1842,109.4 L1842,135.4 L1618.8,132.9 L1617.8,132.1 L1614.8,132.1 L1613.8,131.2 L1610.8,131.2 L1609.8,130.4 L1606.8,130.4 L1605.8,129.5 L1602.8,129.5 L1601.8,128.7 L1597.8,128.6 L279.8,128.6 Z"/>
<g fill="#000"><use href="#fS" x="281.8" y="115.4"/>
<use href="#fS" x="290.8" y="115.4"/>
<use href="#fS" x="299.8" y="115.4"/>
<use href="#fS" x="308.8" y="115.4"/>
<use href="#fS" x="317.8" y="115.4"/>
<use href="#fS" x="326.8" y="115.4"/>
<use href="#fS" x="335.8" y="115.4"/>
<use href="#fS" x="344.8" y="115.4"/>
<use href="#fS" x="353.9" y="115.4"/>
<use href="#fS" x="362.9" y="115.4"/>
<use href="#fS" x="371.9" y="115.4"/>
<use href="#fS" x="380.9" y="115.4"/>
<use href="#fS" x="389.9" y="115.4"/>
<use href="#fS" x="398.9" y="115.4"/>
<use href="#fS" x="407.9" y="115.4"/>
<use href="#fS" x="416.9" y="115.4"/>
<use href="#fS" x="425.9" y="115.4"/>
<use href="#fS" x="434.9" y="115.4"/>
<use href="#fS" x="443.9" y="115.4"/>
<use href="#fS" x="452.9" y="115.4"/>
<use href="#fS" x="461.9" y="115.4"/>
<use href="#fS" x="470.9" y="115.4"/>
<use href="#fS" x="480" y="115.4"/>
<use href="#fS" x="489" y="115.4"/>
<use href="#fS" x="498" y="115.4"/>
<use href="#fS" x="507" y="115.4"/>
<use href="#fS" x="516" y="115.4"/>
<use href="#fS" x="525" y="115.4"/>
<use href="#fS" x="534" y="115.4"/>
<use href="#fS" x="543" y="115.4"/>
<use href="#fS" x="552" y="115.4"/>
<use href="#fS" x="561" y="115.4"/>
<use href="#fS" x="570" y="115.4"/>
<use href="#fS" x="579" y="115.4"/>
<use href="#fS" x="588" y="115.4"/>
<use href="#fS" x="597" y="115.4"/>
<use href="#fS" x="606" y="115.4"/>
<use href="#fS" x="615.1" y="115.4"/>
<use href="#fS" x="624.1" y="115.4"/>
<use href="#fS" x="633.1" y="115.4"/>
<use href="#fS" x="642.1" y="115.4"/>
<use href="#fS" x="651.1" y="115.4"/>
<use href="#fS" x="660.1" y="115.4"/>
<use href="#fS" x="669.1" y="115.4"/>
<use href="#fS" x="678.1" y="115.4"/>
<use href="#fS" x="687.1" y="115.4"/>
<use href="#fS" x="696.1" y="115.4"/>
<use href="#fS" x="705.1" y="115.4"/>
<use href="#fS" x="714.1" y="115.4"/>
<use href="#fS" x="723.1" y="115.4"/>
<use href="#fS" x="732.1" y="115.4"/>
<use href="#fS" x="741.2" y="115.4"/>
<use href="#fS" x="750.2" y="115.4"/>
<use href="#fS" x="759.2" y="115.4"/>
<use href="#fS" x="768.2" y="115.4"/>
<use href="#fS" x="777.2" y="115.4"/>
<use href="#fS" x="786.2" y="115.4"/>
<use href="#fS" x="795.2" y="115.4"/>
<use href="#fS" x="804.2" y="115.4"/>
<use href="#fS" x="813.2" y="115.4"/>
<use href="#fS" x="822.2" y="115.4"/>
<use href="#fS" x="831.2" y="115.4"/>
<use href="#fS" x="840.2" y="115.4"/>
<use href="#fS" x="849.2" y="115.4"/>
<use href="#fS" x="858.2" y="115.4"/>
<use href="#fS" x="867.3" y="115.4"/>
<use href="#fS" x="876.3" y="115.4"/>
<use href="#fS" x="885.3" y="115.4"/>
<use href="#fS" x="894.3" y="115.4"/>
<use href="#fS" x="903.3" y="115.4"/>
<use href="#fS" x="912.3" y="115.4"/>
<use href="#fS" x="921.3" y="115.4"/>
<use href="#fS" x="930.3" y="115.4"/>
<use href="#fS" x="939.3" y="115.4"/>
<use href="#fS" x="948.3" y="115.4"/>
<use href="#fS" x="957.3" y="115.4"/>
<use href="#fS" x="966.3" y="115.4"/>
<use href="#fS" x="975.3" y="115.4"/>
<use href="#fS" x="984.3" y="115.4"/>
<use href="#fS" x="993.3" y="115.4"/>
<use href="#fS" x="1002.4" y="115.4"/>
<use href="#fS" x="1011.4" y="115.4"/>
<use href="#fS" x="1020.4" y="115.4"/>
<use href="#fS" x="1029.4" y="115.4"/>
<use href="#fS" x="1038.4" y="115.4"/>
<use href="#fS" x="1047.4" y="115.4"/>
<use href="#fS" x="1056.4" y="115.4"/>
<use href="#fS" x="1065.4" y="115.4"/>
<use href="#fS" x="1074.4" y="115.4"/>
<use href="#fS" x="1083.4" y="115.4"/>
<use href="#fS" x="1092.4" y="115.4"/>
<use href="#fS" x="1101.4" y="115.4"/>
<use href="#fS" x="1110.4" y="115.4"/>
<use href="#fS" x="1119.4" y="115.4"/>
<use href="#fS" x="1128.5" y="115.4"/>
<use href="#fS" x="1137.5" y="115.4"/>
<use href="#fS" x="1146.5" y="115.4"/>
<use href="#fS" x="1155.5" y="115.4"/>
<use href="#fS" x="1164.5" y="115.4"/>
<use href="#fS" x="1173.5" y="115.4"/>
<use href="#fS" x="1182.5" y="115.4"/>
<use href="#fS" x="1191.5" y="115.4"/>
<use href="#fS" x="1200.5" y="115.4"/>
<use href="#fS" x="1209.5" y="115.4"/>
<use href="#fS" x="1218.5" y="115.4"/>
<use href="#fS" x="1227.5" y="115.4"/>
<use href="#fS" x="1236.5" y="115.4"/>
<use href="#fS" x="1245.5" y="115.4"/>
<use href="#fS" x="1254.5" y="115.4"/>
<use href="#fS" x="1263.6" y="115.4"/>
<use href="#fS" x="1272.6" y="115.4"/>
<use href="#fS" x="1281.6" y="115.4"/>
<use href="#fS" x="1290.6" y="115.4"/>
<use href="#fS" x="1299.6" y="115.4"/>
<use href="#fS" x="1308.6" y="115.4"/>
<use href="#fS" x="1317.6" y="115.4"/>
<use href="#fS" x="1326.6" y="115.4"/>
<use href="#fS" x="1335.6" y="115.4"/>
<use href="#fS" x="1344.6" y="115.4"/>
<use href="#fS" x="1353.6" y="115.4"/>
<use href="#fS" x="1362.6" y="115.4"/>
<use href="#fS" x="1371.6" y="115.4"/>
<use href="#fS" x="1380.6" y="115.4"/>
<use href="#fS" x="1389.7" y="115.4"/>
<use href="#fS" x="1398.7" y="115.4"/>
<use href="#fS" x="1407.7" y="115.4"/>
<use href="#fS" x="1416.7" y="115.4"/>
<use href="#fS" x="1425.7" y="115.4"/>
<use href="#fS" x="1434.7" y="115.4"/>
<use href="#fS" x="1443.7" y="115.4"/>
<use href="#fS" x="1452.7" y="115.4"/>
<use href="#fS" x="1461.7" y="115.4"/>
<use href="#fS" x="1470.7" y="115.4"/>
<use href="#fS" x="1479.7" y="115.4"/>
<use href="#fS" x="1488.7" y="115.4"/>
<use href="#fS" x="1497.7" y="115.4"/>
<use href="#fS" x="1506.7" y="115.4"/>
<use href="#fS" x="1515.8" y="115.4"/>
<use href="#fS" x="1524.8" y="115.4"/>
<use href="#fS" x="1533.8" y="115.4"/>
<use href="#fS" x="1542.8" y="115.4"/>
<use href="#fS" x="1551.8" y="115.4"/>
<use href="#fS" x="1560.8" y="115.4"/>
<use href="#fS" x="1569.8" y="115.4"/>
<use href="#fS" x="1578.8" y="115.4"/>
<use href="#fS" x="1587.8" y="115.4"/>
<use href="#fS" x="1596.8" y="115.4"/>
<use href="#fS" x="1605.8" y="116.7"/>
<use href="#fS" x="1614.8" y="118.6"/>
<use href="#fS" x="1623.8" y="119.7"/>
<use href="#fS" x="1632.8" y="119.8"/>
<use href="#fS" x="1641.8" y="119.9"/>
<use href="#fS" x="1650.9" y="120.1"/>
<use href="#fS" x="1659.9" y="120.2"/>
<use href="#fS" x="1668.9" y="120.3"/>
<use href="#fS" x="1677.9" y="120.4"/>
<use href="#fS" x="1686.9" y="120.5"/>
<use href="#fS" x="1695.9" y="120.6"/>
<use href="#fS" x="1704.9" y="120.7"/>
<use href="#fS" x="1713.9" y="120.8"/>
<use href="#fS" x="1722.9" y="120.9"/>
<use href="#fS" x="1731.9" y="121"/>
<use href="#fS" x="1740.9" y="121.1"/>
<use href="#fS" x="1749.9" y="121.2"/>
<use href="#fS" x="1758.9" y="121.3"/>
<use href="#fS" x="1767.9" y="121.4"/>
<use href="#fS" x="1777" y="121.5"/>
<use href="#fS" x="1786" y="121.6"/>
<use href="#fS" x="1795" y="121.7"/>
<use href="#fS" x="1804" y="121.8"/>
<use href="#fS" x="1813" y="121.9"/>
<use href="#fS" x="1822" y="122"/>
<use href="#fS" x="1831" y="122.1"/>
<use href="#fS" x="1840" y="122.2"/></g>
<g><use href="#hD" x="278" y="393"/>
<use href="#hD" x="285" y="393.2"/>
<use href="#hD" x="292" y="393.4"/>
<use href="#hD" x="299" y="396.5"/>
<use href="#hD" x="306" y="399.7"/>
<use href="#hD" x="313.1" y="399.8"/>
<use href="#hD" x="320.1" y="400.1"/>
<use href="#hD" x="327.1" y="400.2"/>
<use href="#hD" x="334.1" y="400.6"/>
<use href="#hD" x="341.1" y="407.5"/>
<use href="#hD" x="348.1" y="407.9"/>
<use href="#hD" x="355.1" y="408"/>
<use href="#hD" x="362.1" y="408.4"/>
<use href="#hD" x="369.1" y="410.3"/>
<use href="#hD" x="376.2" y="413"/>
<use href="#hD" x="383.2" y="412.4"/>
<use href="#hD" x="390.2" y="412.5"/>
<use href="#hD" x="397.2" y="411.9"/>
<use href="#hD" x="404.2" y="412.5"/>
<use href="#hD" x="411.2" y="412.4"/>
<use href="#hD" x="418.2" y="413.2"/>
<use href="#hD" x="425.2" y="417.9"/>
<use href="#hD" x="432.2" y="418.6"/>
<use href="#hD" x="439.3" y="422.3"/>
<use href="#hD" x="446.3" y="422.2"/>
<use href="#hD" x="453.3" y="421.3"/>
<use href="#hD" x="460.3" y="421.3"/>
<use href="#hD" x="467.3" y="421.6"/>
<use href="#hD" x="474.3" y="423.1"/>
<use href="#hD" x="481.3" y="423.5"/>
<use href="#hD" x="488.3" y="425"/>
<use href="#hD" x="495.3" y="425.3"/>
<use href="#hD" x="502.4" y="426.9"/>
<use href="#hD" x="509.4" y="427.2"/>
<use href="#hD" x="516.4" y="428.8"/>
<use href="#hD" x="523.4" y="429.1"/>
<use href="#hD" x="530.4" y="430.2"/>
<use href="#hD" x="537.4" y="429.9"/>
<use href="#hD" x="544.4" y="431"/>
<use href="#hD" x="551.4" y="430.6"/>
<use href="#hD" x="558.4" y="431.8"/>
<use href="#hD" x="565.5" y="431.4"/>
<use href="#hD" x="572.5" y="432.6"/>
<use href="#hD" x="579.5" y="432.2"/>
<use href="#hD" x="586.5" y="433.4"/>
<use href="#hD" x="593.5" y="432.9"/>
<use href="#hD" x="600.5" y="434.2"/>
<use href="#hD" x="607.5" y="433.7"/>
<use href="#hD" x="614.5" y="435"/>
<use href="#hD" x="621.5" y="434.4"/>
<use href="#hD" x="628.6" y="435.8"/>
<use href="#hD" x="635.6" y="435.2"/>
<use href="#hD" x="642.6" y="436.6"/>
<use href="#hD" x="649.6" y="436"/>
<use href="#hD" x="656.6" y="437.5"/>
<use href="#hD" x="663.6" y="436.9"/>
<use href="#hD" x="670.6" y="438.5"/>
<use href="#hD" x="677.6" y="437.9"/>
<use href="#hD" x="684.6" y="439.5"/>
<use href="#hD" x="691.7" y="438.9"/>
<use href="#hD" x="698.7" y="440.5"/>
<use href="#hD" x="705.7" y="439.9"/>
<use href="#hD" x="712.7" y="441.6"/>
<use href="#hD" x="719.7" y="440.8"/>
<use href="#hD" x="726.7" y="442.6"/>
<use href="#hD" x="733.7" y="441.8"/>
<use href="#hD" x="740.7" y="443.6"/>
<use href="#hD" x="747.7" y="442.8"/>
<use href="#hD" x="754.8" y="444.6"/>
<use href="#hD" x="761.8" y="443.6"/>
<use href="#hD" x="768.8" y="445.3"/>
<use href="#hD" x="775.8" y="444.3"/>
<use href="#hD" x="782.8" y="446"/>
<use href="#hD" x="789.8" y="445"/>
<use href="#hD" x="796.8" y="446.8"/>
<use href="#hD" x="803.8" y="445.7"/>
<use href="#hD" x="810.8" y="447.5"/>
<use href="#hD" x="817.9" y="446.3"/>
<use href="#hD" x="824.9" y="448.2"/>
<use href="#hD" x="831.9" y="447"/>
<use href="#hD" x="838.9" y="448.9"/>
<use href="#hD" x="845.9" y="447.7"/>
<use href="#hD" x="852.9" y="449.6"/>
<use href="#hD" x="859.9" y="448.3"/>
<use href="#hD" x="866.9" y="450.3"/>
<use href="#hD" x="873.9" y="449"/>
<use href="#hD" x="881" y="451"/>
<use href="#hD" x="888" y="449.7"/>
<use href="#hD" x="895" y="451.8"/>
<use href="#hD" x="902" y="450.4"/>
<use href="#hD" x="909" y="452.5"/>
<use href="#hD" x="916" y="451.1"/>
<use href="#hD" x="923" y="453.2"/>
<use href="#hD" x="930" y="451.8"/>
<use href="#hD" x="937" y="453.9"/>
<use href="#hD" x="944.1" y="452.4"/>
<use href="#hD" x="951.1" y="454.7"/>
<use href="#hD" x="958.1" y="453.1"/>
<use href="#hD" x="965.1" y="455.4"/>
<use href="#hD" x="972.1" y="453.9"/>
<use href="#hD" x="979.1" y="456.3"/>
<use href="#hD" x="986.1" y="454.8"/>
<use href="#hD" x="993.1" y="457.2"/>
<use href="#hD" x="1000.1" y="455.7"/>
<use href="#hD" x="1007.2" y="458.2"/>
<use href="#hD" x="1014.2" y="456.5"/>
<use href="#hD" x="1021.2" y="459.3"/>
<use href="#hD" x="1028.2" y="457.3"/>
<use href="#hD" x="1035.2" y="460.3"/>
<use href="#hD" x="1042.2" y="458.2"/>
<use href="#hD" x="1049.2" y="461.3"/>
<use href="#hD" x="1056.2" y="458.9"/>
<use href="#hD" x="1063.2" y="462.1"/>
<use href="#hD" x="1070.3" y="459.4"/>
<use href="#hD" x="1077.3" y="462.9"/>
<use href="#hD" x="1084.3" y="460"/>
<use href="#hD" x="1091.3" y="463.7"/>
<use href="#hD" x="1098.3" y="460.6"/>
<use href="#hD" x="1105.3" y="464.5"/>
<use href="#hD" x="1112.3" y="461.2"/>
<use href="#hD" x="1119.3" y="465.3"/>
<use href="#hD" x="1126.4" y="461.7"/>
<use href="#hD" x="1133.4" y="466.1"/>
<use href="#hD" x="1140.4" y="462.3"/>
<use href="#hD" x="1147.4" y="466.8"/>
<use href="#hD" x="1154.4" y="462.9"/>
<use href="#hD" x="1161.4" y="467.6"/>
<use href="#hD" x="1168.4" y="463.4"/>
<use href="#hD" x="1175.4" y="468.4"/>
<use href="#hD" x="1182.4" y="464"/>
<use href="#hD" x="1189.5" y="469.2"/>
<use href="#hD" x="1196.5" y="464.6"/>
<use href="#hD" x="1203.5" y="470"/>
<use href="#hD" x="1210.5" y="465.2"/>
<use href="#hD" x="1217.5" y="470.8"/>
<use href="#hD" x="1224.5" y="465.8"/>
<use href="#hD" x="1231.5" y="471.6"/>
<use href="#hD" x="1238.5" y="466.4"/>
<use href="#hD" x="1245.5" y="472.4"/>
<use href="#hD" x="1252.6" y="466.9"/>
<use href="#hD" x="1259.6" y="473.2"/>
<use href="#hD" x="1266.6" y="467.5"/>
<use href="#hD" x="1273.6" y="473.6"/>
<use href="#hD" x="1280.6" y="468"/>
<use href="#hD" x="1287.6" y="474"/>
<use href="#hD" x="1294.6" y="468.5"/>
<use href="#hD" x="1301.6" y="474.3"/>
<use href="#hD" x="1308.6" y="469"/>
<use href="#hD" x="1315.7" y="474.7"/>
<use href="#hD" x="1322.7" y="469.5"/>
<use href="#hD" x="1329.7" y="475"/>
<use href="#hD" x="1336.7" y="470"/>
<use href="#hD" x="1343.7" y="475.4"/>
<use href="#hD" x="1350.7" y="470.5"/>
<use href="#hD" x="1357.7" y="475.7"/>
<use href="#hD" x="1364.7" y="471"/>
<use href="#hD" x="1371.7" y="476"/>
<use href="#hD" x="1378.8" y="471.3"/>
<use href="#hD" x="1385.8" y="476.2"/>
<use href="#hD" x="1392.8" y="471.7"/>
<use href="#hD" x="1399.8" y="476.4"/>
<use href="#hD" x="1406.8" y="472"/>
<use href="#hD" x="1413.8" y="476.5"/>
<use href="#hD" x="1420.8" y="472.3"/>
<use href="#hD" x="1427.8" y="476.7"/>
<use href="#hD" x="1434.8" y="472.6"/>
<use href="#hD" x="1441.9" y="476.9"/>
<use href="#hD" x="1448.9" y="473"/>
<use href="#hD" x="1455.9" y="476.9"/>
<use href="#hD" x="1462.9" y="472.9"/>
<use href="#hD" x="1469.9" y="476.6"/>
<use href="#hD" x="1476.9" y="472.8"/>
<use href="#hD" x="1483.9" y="476.4"/>
<use href="#hD" x="1490.9" y="472.7"/>
<use href="#hD" x="1497.9" y="476.1"/>
<use href="#hD" x="1505" y="472.6"/>
<use href="#hD" x="1512" y="475.9"/>
<use href="#hD" x="1519" y="472.5"/>
<use href="#hD" x="1526" y="475.6"/>
<use href="#hD" x="1533" y="472.4"/>
<use href="#hD" x="1540" y="475.4"/>
<use href="#hD" x="1547" y="472.2"/>
<use href="#hD" x="1554" y="475.1"/>
<use href="#hD" x="1561" y="472.1"/>
<use href="#hD" x="1568.1" y="474.9"/>
<use href="#hD" x="1575.1" y="472.4"/>
<use href="#hD" x="1582.1" y="475.3"/>
<use href="#hD" x="1589.1" y="472.9"/>
<use href="#hD" x="1596.1" y="475.6"/>
<use href="#hD" x="1603.1" y="473.4"/>
<use href="#hD" x="1610.1" y="476"/>
<use href="#hD" x="1617.1" y="473.8"/>
<use href="#hD" x="1624.1" y="476.3"/>
<use href="#hD" x="1631.2" y="474.3"/>
<use href="#hD" x="1638.2" y="476.7"/>
<use href="#hD" x="1645.2" y="474.8"/>
<use href="#hD" x="1652.2" y="476.8"/>
<use href="#hD" x="1659.2" y="474.5"/>
<use href="#hD" x="1666.2" y="475.9"/>
<use href="#hD" x="1673.2" y="473.7"/>
<use href="#hD" x="1680.2" y="475"/>
<use href="#hD" x="1687.2" y="472.9"/>
<use href="#hD" x="1694.3" y="474"/>
<use href="#hD" x="1701.3" y="472.1"/>
<use href="#hD" x="1708.3" y="473.1"/>
<use href="#hD" x="1715.3" y="471.3"/>
<use href="#hD" x="1722.3" y="472.2"/>
<use href="#hD" x="1729.3" y="470.5"/>
<use href="#hD" x="1736.3" y="471.9"/>
<use href="#hD" x="1743.3" y="471.3"/>
<use href="#hD" x="1750.3" y="472.7"/>
<use href="#hD" x="1757.4" y="472.2"/>
<use href="#hD" x="1764.4" y="473.6"/>
<use href="#hD" x="1771.4" y="473.2"/>
<use href="#hD" x="1778.4" y="474.3"/>
<use href="#hD" x="1785.4" y="473"/>
<use href="#hD" x="1792.4" y="473"/>
<use href="#hD" x="1799.4" y="471.8"/>
<use href="#hD" x="1806.4" y="471.7"/>
<use href="#hD" x="1813.4" y="470.7"/>
<use href="#hD" x="1820.5" y="470.3"/>
<use href="#hD" x="1827.5" y="469.5"/>
<use href="#hD" x="1834.5" y="469"/>
<use href="#hD" x="1841.5" y="468.3"/>
<use href="#hD" x="1848.5" y="467.7"/></g>
<path fill="#800000" d="M257,249 L280,228.4 L281,228.4 L282,229.3 L283,228.5 L284,228.5 L285,229.4 L286,228.5 L287,228.5 L288,229.4 L289,228.5 L290,228.5 L291,229.4 L292,228.5 L293,228.5 L294,229.4 L295,228.5 L296,228.6 L297,229.5 L298,228.6 L299,228.6 L300,229.5 L301,228.6 L302,228.6 L303,229.5 L304,228.6 L305,228.6 L306,229.5 L307,228.6 L308,228.7 L309,229.5 L310,228.6 L311,228.7 L312,229.6 L313,228.7 L314,228.7 L315,229.6 L316,228.7 L317,228.7 L318,229.6 L319,228.7 L320,228.8 L321,229.6 L323,229.2 L324,230.1 L326,230.6 L328,232.1 L329,232.1 L330,233 L332,233.3 L334,235 L335,235 L336,235.9 L338,235.9 L342,238.8 L344,238.6 L348,241.7 L350,241.3 L353,243.5 L354,243.7 L355,242.8 L356,242.9 L357,243.8 L360,244.5 L361,243.6 L362,243.7 L363,244.5 L366,245.2 L367,244.3 L368,244.4 L369,245.3 L372,245.9 L373,245 L374,245.1 L375,246 L378,246.7 L379,245.8 L380,245.9 L381,246.8 L384,247.4 L385,246.5 L386,246.6 L387,247.5 L390,248.1 L391,247.2 L392,247.4 L393,248.3 L395,248.3 L396,248.9 L397,248 L398,248.1 L399,249 L401,249 L402,249.6 L403,248.7 L404,248.8 L405,249.7 L407,249.7 L408,250.3 L409,249.4 L410,249.6 L411,250.5 L413,250.4 L414,251.1 L415,250.2 L416,250.3 L417,251.2 L419,251 L420,251.8 L421,250.9 L422,251.1 L423,252 L425,251.7 L426,252.5 L427,251.6 L428,251.8 L429,252.7 L430,252.2 L431,252.4 L432,253.3 L433,252.4 L434,252.5 L435,253.4 L436,252.9 L437,253.1 L438,254 L439,253.1 L440,253.3 L441,254.2 L442,253.6 L443,253.8 L444,254.7 L445,253.8 L446,254 L447,254.9 L448,254.3 L449,254.5 L450,255.4 L451,254.6 L452,254.8 L453,255.7 L454,254.9 L456,256 L457,255.1 L458,255.3 L459,256.2 L460,255.3 L462,256.3 L463,255.4 L464,255.6 L465,256.5 L466,255.6 L468,256.6 L469,255.7 L471,256.8 L472,256 L474,256.9 L475,256 L477,257.1 L478,256.3 L480,257.2 L481,256.3 L483,257.4 L484,256.7 L486,257.5 L487,256.6 L489,257.7 L490,257.1 L492,257.8 L493,256.9 L495,258 L496,257.4 L498,258.1 L499,257.2 L501,258.3 L502,257.8 L504,258.4 L505,257.5 L507,258.6 L508,258.1 L510,258.7 L511,257.8 L513,259 L514,258.5 L516,259 L517,258.1 L519,259.3 L520,258.8 L522,259.3 L523,258.4 L525,259.6 L526,259.2 L528,259.6 L529,258.7 L531,259.9 L532,259.5 L534,259.9 L535,259 L537,260.2 L540,260.2 L541,259.3 L543,260.5 L546,260.5 L547,259.6 L549,260.8 L551,260.9 L552,260.8 L553,259.9 L555,261.1 L557,261.3 L558,261.2 L559,260.3 L561,261.5 L563,261.7 L564,261.6 L565,260.7 L567,261.9 L569,262.1 L570,262 L571,261.1 L573,262.3 L575,262.5 L576,262.3 L577,261.5 L579,262.7 L581,262.9 L582,262.7 L583,261.8 L585,263.1 L587,263.3 L588,263.1 L589,262.2 L591,263.5 L593,263.7 L594,263.5 L595,262.6 L597,263.9 L599,264.1 L600,263.9 L601,263 L603,264.3 L605,264.4 L606,264.3 L607,263.4 L609,264.7 L610,264.5 L611,264.8 L612,264.7 L613,263.8 L615,265.1 L616,264.9 L617,265.2 L618,265.1 L619,264.2 L621,265.5 L622,265.2 L623,265.6 L624,265.5 L625,264.6 L627,265.9 L628,265.6 L629,266 L630,265.9 L631,265 L633,266.3 L634,266 L635,266.4 L636,266.3 L637,265.4 L639,266.7 L640,266.4 L641,266.8 L642,266.7 L643,265.8 L645,267.1 L646,266.8 L647,267.2 L648,267.1 L649,266.2 L651,267.5 L652,267.2 L654,267.5 L655,266.6 L657,268 L658,267.6 L660,268 L661,267.1 L663,268.4 L664,268 L666,268.5 L667,267.6 L669,268.9 L670,268.5 L672,268.9 L673,268 L675,269.4 L676,268.9 L678,269.4 L679,268.5 L681,269.9 L682,269.3 L684,269.9 L685,269 L687,270.3 L688,269.7 L690,270.3 L691,269.4 L693,270.8 L694,270.1 L696,270.8 L697,269.9 L699,271.3 L700,270.6 L702,271.3 L703,270.4 L705,271.8 L706,271 L708,271.7 L709,270.8 L711,272.2 L712,271.4 L714,272.2 L715,271.3 L717,272.7 L718,271.8 L720,272.7 L721,271.8 L723,273.1 L724,272.2 L726,273.1 L727,272.2 L729,273.5 L730,272.7 L732,273.6 L733,272.7 L735,274 L736,273.1 L738,274.1 L739,273.2 L741,274.4 L742,273.5 L744,274.5 L745,273.6 L747,274.8 L748,273.9 L750,275 L751,274.1 L753,275.2 L754,274.3 L756,275.4 L757,274.5 L759,275.5 L760,274.7 L762,275.7 L763,274.8 L765,275.9 L766,275 L768,276.1 L769,275.2 L771,276.2 L772,275.4 L774,276.4 L775,275.5 L777,276.6 L778,275.7 L780,276.8 L781,275.9 L783,276.9 L784,276.1 L786,277.1 L787,276.2 L789,277.3 L790,276.4 L792,277.5 L793,276.6 L795,277.6 L796,276.8 L798,277.8 L799,276.9 L801,278 L802,277.1 L804,278.2 L805,277.3 L807,278.3 L808,277.4 L810,278.5 L811,277.6 L813,278.7 L814,277.8 L816,278.9 L817,278 L819,279 L820,278.1 L822,279.2 L823,278.3 L825,279.4 L826,278.5 L828,279.6 L829,278.7 L831,279.7 L832,278.8 L834,279.9 L835,279 L837,280.1 L838,279.2 L840,280.3 L841,279.4 L843,280.4 L844,279.5 L846,280.6 L847,279.7 L849,280.8 L850,279.9 L852,281 L853,280.1 L855,281.2 L856,280.3 L858,281.4 L859,280.6 L861,281.7 L862,280.8 L864,282 L865,281.1 L867,282.2 L868,281.3 L870,282.5 L871,281.6 L873,282.7 L874,281.8 L876,283 L877,282.1 L879,283.2 L880,282.3 L882,283.5 L883,282.6 L885,283.7 L886,282.8 L888,284 L889,283.1 L891,284.2 L892,283.3 L894,284.5 L895,283.6 L897,284.7 L898,283.8 L900,285 L901,284.1 L903,285.2 L904,284.3 L906,285.5 L907,284.6 L909,285.7 L910,284.8 L912,286 L913,285.1 L915,286.2 L916,285.3 L918,286.5 L919,285.6 L921,286.7 L922,285.9 L924,287 L925,286.1 L927,287.3 L928,286.4 L930,287.5 L931,286.6 L933,287.8 L934,286.9 L936,288 L937,287.1 L939,288.3 L940,287.4 L942,288.5 L943,287.6 L945,288.8 L946,287.9 L948,289 L949,288.1 L951,289.3 L952,288.4 L954,289.5 L955,288.6 L957,289.8 L958,288.9 L960,290 L961,289.1 L963,290.2 L964,289.3 L966,290.4 L967,289.5 L969,290.7 L970,289.8 L972,290.8 L973,289.9 L975,291.2 L976,290.3 L977,291.1 L978,291.2 L979,290.3 L981,291.6 L982,290.7 L983,291.5 L984,291.6 L985,290.7 L987,292.1 L988,291.2 L989,292 L990,292 L991,291.1 L993,292.6 L994,291.7 L995,292.5 L996,292.4 L997,291.5 L999,293 L1000,292.1 L1001,293 L1002,292.8 L1003,291.9 L1005,293.5 L1006,292.6 L1007,293.4 L1009,292.3 L1011,294 L1012,293.1 L1013,293.9 L1015,292.7 L1017,294.4 L1018,293.5 L1019,294.4 L1021,293.1 L1023,294.8 L1024,294 L1025,294.8 L1027,293.5 L1029,295.2 L1030,294.5 L1031,295.3 L1033,293.9 L1035,295.6 L1036,294.9 L1037,295.8 L1039,294.3 L1041,296 L1042,295.4 L1043,296.3 L1045,294.7 L1047,296.4 L1048,295.9 L1049,296.7 L1051,295.1 L1053,296.9 L1054,296.4 L1055,297.2 L1057,295.6 L1059,297.4 L1060,296.9 L1061,297.8 L1063,296.1 L1065,297.9 L1066,297.4 L1067,298.3 L1069,296.6 L1071,298.4 L1072,297.9 L1073,298.8 L1075,297.1 L1077,298.9 L1078,298.5 L1079,299.3 L1081,297.7 L1083,299.4 L1084,299 L1085,299.9 L1087,298.2 L1089,300 L1090,299.5 L1091,300.4 L1093,298.7 L1095,300.5 L1096,300 L1097,300.9 L1099,299.2 L1101,301 L1102,300.6 L1103,301.5 L1105,299.7 L1107,301.5 L1108,301.1 L1109,302 L1111,300.2 L1113,302 L1114,301.6 L1115,302.5 L1117,300.7 L1119,302.5 L1120,302.1 L1121,303 L1123,301.3 L1125,303 L1126,302.7 L1127,303.5 L1129,301.8 L1131,303.6 L1132,303.2 L1133,304 L1135,302.3 L1137,304.1 L1138,303.7 L1139,304.5 L1141,302.8 L1143,304.6 L1144,304.2 L1145,305 L1147,303.3 L1149,305.1 L1150,304.8 L1151,305.5 L1153,303.8 L1155,305.6 L1156,305.1 L1157,305.6 L1159,303.9 L1161,305.7 L1162,305.2 L1163,305.7 L1165,304 L1167,305.8 L1168,305.4 L1169,305.8 L1171,304.1 L1173,305.9 L1175,305.9 L1177,304.2 L1179,306 L1181,306 L1183,304.4 L1185,306.1 L1187,306.1 L1189,304.5 L1191,306.3 L1193,306.2 L1195,304.6 L1197,306.4 L1199,306.3 L1201,304.7 L1203,306.5 L1205,306.5 L1207,304.8 L1209,306.6 L1210,306.7 L1211,306.6 L1213,304.9 L1215,306.7 L1216,306.9 L1217,306.7 L1219,305.1 L1221,306.8 L1222,307.1 L1223,306.8 L1225,305.2 L1227,307 L1228,307.2 L1231,305.3 L1233,307.1 L1234,307.4 L1237,305.4 L1240,307.6 L1243,305.5 L1246,307.8 L1249,305.7 L1252,308 L1255,305.8 L1258,308.1 L1261,305.9 L1264,308.2 L1267,306.1 L1270,308.3 L1273,306.3 L1275,308.1 L1276,308.3 L1279,306.5 L1281,308.3 L1282,308.4 L1283,308.2 L1285,306.7 L1287,308.5 L1289,308.4 L1291,306.8 L1293,308.6 L1295,308.6 L1297,307 L1299,308.8 L1301,308.7 L1303,307.2 L1305,309 L1307,308.9 L1309,307.4 L1311,309.2 L1312,308.7 L1313,309.1 L1315,307.6 L1317,309.4 L1318,308.8 L1319,309.3 L1321,307.8 L1323,309.5 L1324,308.9 L1325,309.4 L1327,308 L1329,309.5 L1330,308.9 L1331,309.6 L1333,308.1 L1335,309.6 L1336,309 L1337,309.8 L1339,308.3 L1341,309.6 L1342,309.1 L1343,310 L1345,308.5 L1346,309.4 L1347,309.7 L1348,309.1 L1349,310 L1351,308.7 L1352,309.6 L1353,309.8 L1354,309.2 L1355,310.1 L1357,308.9 L1358,309.8 L1360,309.3 L1361,310.2 L1363,309 L1364,309.9 L1366,309.4 L1367,310.3 L1369,309.2 L1370,310.1 L1372,309.6 L1373,310.5 L1375,309.4 L1376,310.3 L1378,309.8 L1379,310.6 L1381,309.5 L1382,310.4 L1384,309.9 L1385,310.8 L1387,309.7 L1388,310.6 L1390,310.1 L1391,311 L1393,309.9 L1394,310.8 L1396,310.2 L1397,311.1 L1399,310 L1400,310.9 L1402,310.4 L1403,311.3 L1405,310.2 L1406,311.1 L1408,310.6 L1409,311.5 L1411,310.4 L1412,311.2 L1414,310.7 L1415,311.6 L1417,310.5 L1418,311.4 L1420,310.9 L1421,311.8 L1423,310.7 L1424,311.6 L1426,311.1 L1427,312 L1429,310.8 L1430,311.7 L1432,311.2 L1433,312.1 L1435,311 L1436,311.9 L1438,311.4 L1439,312.3 L1441,311.2 L1442,312.1 L1444,311.5 L1445,312.4 L1447,311.3 L1448,312.2 L1450,311.7 L1451,312.6 L1453,311.4 L1454,312.3 L1456,311.6 L1457,312.5 L1459,311.3 L1460,312.1 L1462,311.5 L1463,312.4 L1465,311.1 L1466,312 L1468,311.4 L1469,312.3 L1471,311 L1472,311.9 L1474,311.3 L1475,312.2 L1477,310.9 L1478,311.8 L1480,311.2 L1481,312.1 L1483,310.8 L1484,311.7 L1486,311.1 L1487,311.9 L1489,310.7 L1490,311.6 L1492,310.9 L1493,311.8 L1495,310.6 L1496,311.5 L1498,310.8 L1499,311.7 L1501,310.4 L1502,311.3 L1504,310.7 L1505,311.6 L1507,310.3 L1508,311.2 L1510,310.6 L1511,311.5 L1513,310.2 L1514,311.1 L1516,310.5 L1517,311.4 L1519,310.1 L1520,311 L1522,310.4 L1523,311.2 L1525,310 L1526,310.9 L1528,310.3 L1529,311.1 L1531,309.9 L1532,310.8 L1534,310.2 L1535,311 L1537,309.8 L1538,310.7 L1540,310.1 L1541,310.9 L1543,309.6 L1544,310.5 L1546,309.9 L1547,310.8 L1549,309.5 L1550,310.4 L1552,309.8 L1553,310.6 L1555,309.4 L1556,310.3 L1558,309.7 L1559,310.5 L1561,309.3 L1562,310.2 L1564,309.6 L1565,310.4 L1567,309.2 L1568,310.1 L1570,309.5 L1571,310.3 L1573,309.1 L1574,310 L1576,309.4 L1577,310.2 L1579,309 L1580,309.8 L1582,309.3 L1583,310 L1585,308.8 L1586,309.7 L1588,309.2 L1589,309.9 L1591,308.7 L1592,309.6 L1594,309.1 L1595,309.8 L1597,308.6 L1598,309.5 L1600,308.9 L1601,309.7 L1603,308.5 L1604,309.4 L1606,308.8 L1607,309.5 L1609,308.4 L1610,309.3 L1612,308.7 L1613,309.6 L1615,308.5 L1616,309.4 L1618,309.2 L1619,309.9 L1621,308.8 L1622,309.7 L1624,309.7 L1625,310.3 L1627,309.1 L1629,310.4 L1630,310.2 L1631,310.6 L1633,309.5 L1635,310.9 L1637,310.9 L1639,309.8 L1641,311.4 L1643,311.3 L1645,310.1 L1647,311.9 L1649,311.6 L1651,310.5 L1653,312.3 L1655,311.9 L1657,310.8 L1659,312.6 L1660,312.6 L1663,311.1 L1665,312.9 L1666,313.1 L1669,311.5 L1672,313.6 L1674,312 L1675,311.8 L1678,314.1 L1680,312.3 L1681,312.1 L1684,314.5 L1686,312.7 L1687,312.5 L1690,314.9 L1692,313.3 L1693,313.1 L1696,315.2 L1698,313.8 L1699,313.7 L1701,315.4 L1702,315.6 L1705,314.2 L1707,316 L1709,315.8 L1710,314.9 L1711,314.8 L1713,316.3 L1715,316.4 L1716,315.5 L1717,315.3 L1719,317 L1720,316.9 L1721,317.4 L1722,316.5 L1723,316.4 L1725,318.2 L1727,318.5 L1728,317.6 L1729,317.5 L1731,319.3 L1733,319.6 L1734,318.7 L1735,318.6 L1737,320.4 L1739,320.7 L1740,319.8 L1741,319.7 L1743,321.5 L1744,321.8 L1745,321.8 L1746,321 L1747,320.8 L1750,323 L1753,321.9 L1755,323.7 L1757,324.5 L1758,323.6 L1759,323.5 L1763,326.4 L1764,325.5 L1765,325.4 L1769,327.7 L1771,327.3 L1772,328.2 L1774,328.1 L1775,329 L1777,328.8 L1778,329.7 L1780,329.4 L1781,330.3 L1783,330.1 L1784,331 L1786,330.8 L1787,331.7 L1789,331.4 L1790,332.3 L1792,332.1 L1793,333 L1795,332.5 L1796,333.4 L1798,332.8 L1799,333.7 L1801,333 L1802,333.9 L1804,333.3 L1805,334.2 L1807,333.5 L1808,334.4 L1809,333.8 L1810,333.8 L1811,334.7 L1813,334 L1814,334.9 L1816,334.3 L1817,335.1 L1819,334.5 L1820,335.4 L1822,334.7 L1823,335.6 L1824,335 L1825,335 L1826,335.9 L1828,335.2 L1829,336.1 L1831,335.5 L1832,336.4 L1833,335.7 L1834,335.7 L1835,336.6 L1837,336 L1838,336.9 L1840,336.2 L1841,337.1 L1842,336.5 L1843,336.5 L1844,337.4 L1845,336.7 L1846,336.7 L1847,337.6 L1848,336.9 L1849,336.9 L1872,357.5 L1872,357.5 L1849,378.1 L1848,378.1 L1847,377.2 L1846,377.8 L1845,377.8 L1844,376.9 L1843,377.6 L1842,377.6 L1841,376.7 L1840,377.3 L1839,377.3 L1838,376.4 L1837,377.1 L1836,377.1 L1835,376.2 L1834,376.8 L1833,376.8 L1832,375.9 L1831,376.6 L1830,376.6 L1829,375.7 L1828,376.4 L1827,376.3 L1826,375.4 L1825,376.1 L1824,376.1 L1823,375.2 L1822,375.9 L1821,375.9 L1820,375 L1819,375.6 L1818,375.6 L1817,374.7 L1816,375.4 L1815,375.4 L1814,374.5 L1813,375.2 L1812,375.1 L1811,374.2 L1810,374.9 L1809,374.9 L1808,374 L1807,374.7 L1806,374.6 L1805,373.7 L1804,374.4 L1803,374.4 L1802,373.5 L1801,374.2 L1800,374.1 L1799,373.2 L1798,373.9 L1797,373.9 L1796,373 L1795,373.7 L1794,373.6 L1793,372.8 L1791,373.2 L1790,372.3 L1788,372.5 L1787,371.6 L1785,371.9 L1784,371 L1782,371.2 L1781,370.3 L1779,370.5 L1778,369.6 L1776,369.9 L1775,369 L1773,369.2 L1772,368.3 L1770,368.4 L1769,367.5 L1767,367.9 L1766,367 L1763,365.8 L1762,366.7 L1761,366.6 L1759,364.8 L1757,364.5 L1756,365.4 L1755,365.3 L1752,363 L1750,364.2 L1749,364.1 L1746,361.9 L1745,362.1 L1744,363 L1743,362.9 L1741,361.1 L1740,360.8 L1739,360.9 L1738,361.8 L1737,361.7 L1735,359.9 L1733,359.7 L1732,360.6 L1731,360.4 L1729,358.8 L1727,358.5 L1726,359.4 L1725,359.2 L1723,357.7 L1721,357.3 L1720,358.1 L1719,358 L1718,357.1 L1716,356.4 L1715,356.6 L1714,357.5 L1710,355.9 L1708,357.1 L1704,355.3 L1702,356.8 L1701,356.7 L1699,354.9 L1698,354.8 L1696,356.5 L1695,356.3 L1693,354.6 L1692,354.4 L1690,356.2 L1689,356 L1687,354.2 L1686,354.1 L1684,355.9 L1683,355.7 L1681,353.9 L1680,353.6 L1678,355.4 L1677,355.2 L1675,353.4 L1674,353.1 L1672,354.9 L1671,354.7 L1669,352.9 L1668,352.6 L1666,354.4 L1662,352.2 L1660,353.9 L1656,351.9 L1654,353.5 L1650,351.6 L1648,353 L1644,351.2 L1642,352.5 L1640,351.4 L1638,350.9 L1637,351.1 L1636,352 L1634,350.9 L1632,350.6 L1631,350.6 L1630,351.5 L1628,350.4 L1625,350.1 L1624,351 L1622,349.9 L1621,350.2 L1619,349.7 L1618,350.5 L1616,349.4 L1615,349.8 L1613,349.2 L1612,350.1 L1610,348.9 L1609,349.8 L1607,349.3 L1606,350.2 L1604,349 L1603,349.9 L1601,349.4 L1600,350.3 L1598,349.2 L1597,350 L1595,349.6 L1594,350.4 L1592,349.3 L1591,350.1 L1589,349.7 L1588,350.6 L1586,349.4 L1585,350.2 L1583,349.8 L1582,350.7 L1580,349.5 L1579,350.4 L1577,349.9 L1576,350.8 L1574,349.6 L1573,350.5 L1571,350 L1570,350.9 L1568,349.7 L1567,350.6 L1565,350.1 L1564,351 L1562,349.8 L1561,350.7 L1559,350.3 L1558,351.2 L1556,350 L1555,350.9 L1553,350.4 L1552,351.3 L1550,350.1 L1549,351 L1547,350.5 L1546,351.4 L1544,350.2 L1543,351.1 L1541,350.6 L1540,351.5 L1538,350.3 L1537,351.2 L1535,350.7 L1534,351.6 L1532,350.4 L1531,351.3 L1529,350.9 L1528,351.7 L1526,350.6 L1525,351.5 L1523,351 L1522,351.9 L1520,350.7 L1519,351.6 L1517,351.1 L1516,352 L1514,350.8 L1513,351.7 L1511,351.2 L1510,352.1 L1508,350.9 L1507,351.8 L1505,351.3 L1504,352.2 L1502,351.1 L1501,351.9 L1499,351.4 L1498,352.3 L1496,351.2 L1495,352.1 L1493,351.6 L1492,352.5 L1490,351.3 L1489,352.2 L1487,351.7 L1486,352.6 L1484,351.4 L1483,352.3 L1481,351.8 L1480,352.7 L1478,351.5 L1477,352.4 L1475,351.9 L1474,352.8 L1472,351.7 L1471,352.6 L1469,352 L1468,352.9 L1466,351.8 L1465,352.7 L1463,352.2 L1462,353 L1460,351.9 L1459,352.8 L1457,352.3 L1456,353.2 L1454,352 L1453,352.9 L1451,352.4 L1450,353.3 L1448,352 L1447,352.9 L1445,352.2 L1444,353.1 L1442,351.8 L1441,352.7 L1439,352.1 L1438,353 L1436,351.7 L1435,352.6 L1433,351.9 L1432,352.8 L1430,351.5 L1429,352.4 L1427,351.8 L1426,352.6 L1424,351.4 L1423,352.3 L1421,351.6 L1420,352.5 L1418,351.2 L1417,352.1 L1415,351.4 L1414,352.3 L1412,351.1 L1411,352 L1409,351.3 L1408,352.2 L1406,350.9 L1405,351.8 L1403,351.1 L1402,352 L1400,350.8 L1399,351.6 L1397,351 L1396,351.9 L1394,350.6 L1393,351.5 L1391,350.8 L1390,351.7 L1388,350.4 L1387,351.3 L1385,350.7 L1384,351.6 L1382,350.3 L1381,351.2 L1379,350.5 L1378,351.4 L1376,350.1 L1375,351 L1373,350.3 L1372,351.2 L1370,350 L1369,350.9 L1367,350.2 L1366,351.1 L1364,349.8 L1363,350.7 L1361,350 L1360,350.9 L1358,349.6 L1357,350.5 L1355,350 L1354,350.9 L1352,349.5 L1351,350.4 L1350,349.8 L1349,349.9 L1348,350.8 L1346,349.3 L1345,350.2 L1344,349.6 L1343,349.9 L1342,350.7 L1340,349.3 L1339,350 L1338,349.4 L1336,350.7 L1334,349.2 L1333,349.8 L1332,349.2 L1330,350.6 L1328,349.1 L1327,349.7 L1326,349.1 L1324,350.6 L1322,349.1 L1321,349.5 L1320,348.9 L1318,350.5 L1316,349 L1315,349.3 L1314,348.7 L1312,350.4 L1310,348.9 L1309,349.1 L1308,348.6 L1306,350.4 L1304,348.9 L1302,348.5 L1300,350.3 L1298,348.8 L1296,348.5 L1294,350.3 L1292,348.7 L1290,348.4 L1288,350.2 L1286,348.7 L1284,348.4 L1282,350.1 L1279,348.2 L1278,348.3 L1276,350.1 L1273,348.1 L1272,348.2 L1270,350 L1267,347.9 L1266,348.2 L1264,350 L1261,347.7 L1258,349.9 L1255,347.6 L1252,349.7 L1249,347.4 L1248,347.8 L1246,349.6 L1243,347.3 L1242,347.6 L1240,349.4 L1237,347.2 L1236,347.4 L1234,349.2 L1231,347.1 L1230,347.3 L1228,349 L1225,347 L1224,347.1 L1222,348.9 L1219,346.9 L1218,346.9 L1216,348.7 L1213,346.8 L1212,346.7 L1210,348.5 L1208,346.9 L1206,346.6 L1204,348.4 L1202,346.7 L1200,346.4 L1198,348.2 L1196,346.5 L1194,346.2 L1192,348 L1190,346.4 L1188,346 L1186,347.8 L1184,346.2 L1182,345.9 L1180,347.7 L1178,346 L1176,345.7 L1174,347.5 L1172,345.8 L1171,346 L1170,345.5 L1168,347.3 L1166,345.6 L1165,345.9 L1164,345.4 L1162,347.1 L1160,345.5 L1159,345.8 L1158,345.2 L1156,347 L1154,345.3 L1153,345.7 L1152,344.9 L1150,346.7 L1148,345 L1147,345.2 L1146,344.4 L1144,346.2 L1142,344.5 L1141,344.7 L1140,343.9 L1138,345.6 L1136,343.9 L1135,344.2 L1134,343.4 L1132,345.1 L1130,343.4 L1129,343.7 L1128,342.9 L1126,344.6 L1124,342.9 L1123,343.2 L1122,342.4 L1120,344.1 L1118,342.3 L1117,342.7 L1116,341.8 L1114,343.6 L1112,341.8 L1111,342.2 L1110,341.3 L1108,343 L1106,341.3 L1105,341.7 L1104,340.8 L1102,342.5 L1100,340.8 L1099,341.2 L1098,340.3 L1096,342 L1094,340.2 L1093,340.6 L1092,339.8 L1090,341.5 L1088,339.7 L1087,340.1 L1086,339.3 L1084,341 L1082,339.2 L1081,339.6 L1080,338.8 L1078,340.4 L1076,338.7 L1075,339.1 L1074,338.2 L1072,339.9 L1070,338.1 L1069,338.6 L1068,337.7 L1066,339.4 L1064,337.6 L1063,338.1 L1062,337.2 L1060,338.9 L1058,337.1 L1057,337.6 L1056,336.7 L1054,338.3 L1052,336.6 L1051,337.1 L1050,336.2 L1048,337.8 L1046,336 L1045,336.7 L1044,335.8 L1042,337.4 L1040,335.6 L1039,336.2 L1038,335.4 L1036,336.9 L1034,335.1 L1033,335.8 L1032,334.9 L1030,336.4 L1028,334.6 L1027,335.4 L1026,334.5 L1024,335.9 L1022,334.2 L1021,335 L1020,334.1 L1018,335.5 L1016,333.8 L1015,334.6 L1014,333.7 L1012,335 L1010,333.4 L1009,334.2 L1008,333.3 L1006,334.5 L1004,333 L1003,333.8 L1002,332.9 L1000,334.1 L998,332.6 L997,333.4 L996,332.5 L994,333.6 L992,332.2 L991,333 L990,332.1 L988,333.1 L986,331.8 L985,332.6 L984,331.7 L982,332.6 L980,331.4 L979,332.2 L978,331.3 L977,331.4 L976,332.2 L974,331 L973,331.8 L972,330.9 L971,330.9 L970,331.7 L968,330.6 L967,331.4 L966,330.5 L965,330.4 L964,331.2 L963,330.3 L962,330.2 L961,330.9 L960,330 L959,330 L958,330.8 L957,329.9 L956,329.7 L955,330.5 L954,329.6 L953,329.5 L952,330.3 L951,329.4 L950,329.2 L949,330 L948,329.1 L947,329 L946,329.7 L945,328.8 L944,328.7 L943,329.5 L942,328.6 L941,328.5 L940,329.2 L939,328.3 L938,328.2 L937,329 L936,328.1 L935,328 L934,328.7 L933,327.8 L932,327.7 L931,328.5 L930,327.6 L929,327.5 L928,328.2 L927,327.3 L926,327.2 L925,327.9 L924,327.1 L923,327 L922,327.7 L921,326.8 L920,326.7 L919,327.4 L918,326.5 L917,326.5 L916,327.2 L915,326.3 L914,326.2 L913,326.9 L912,326 L911,326 L910,326.7 L909,325.8 L908,325.7 L907,326.4 L906,325.5 L905,325.4 L904,326.2 L903,325.3 L902,325.2 L901,325.9 L900,325 L899,324.9 L898,325.6 L897,324.8 L896,324.7 L895,325.4 L894,324.5 L893,324.4 L892,325.1 L891,324.2 L890,324.2 L889,324.9 L888,324 L887,323.9 L886,324.6 L885,323.7 L884,323.7 L883,324.4 L882,323.5 L881,323.4 L880,324.1 L879,323.2 L878,323.2 L877,323.9 L876,323 L875,322.9 L874,323.6 L873,322.7 L872,322.7 L871,323.3 L870,322.4 L869,322.4 L868,323.1 L867,322.2 L866,322.2 L865,322.8 L864,321.9 L863,321.9 L862,322.6 L861,321.7 L860,321.7 L859,322.3 L858,321.4 L857,321.4 L856,322.1 L855,321.2 L854,321.2 L853,321.8 L852,320.9 L850,321.7 L849,320.8 L847,321.5 L846,320.6 L844,321.3 L843,320.4 L841,321.1 L840,320.2 L838,320.9 L837,320 L835,320.8 L834,319.9 L832,320.6 L831,319.7 L829,320.4 L828,319.5 L826,320.2 L825,319.3 L823,320 L822,319.2 L820,319.9 L819,319 L817,319.7 L816,318.8 L814,319.5 L813,318.6 L811,319.3 L810,318.4 L808,319.2 L807,318.3 L805,319 L804,318.1 L802,318.8 L801,317.9 L799,318.6 L798,317.7 L796,318.4 L795,317.6 L793,318.3 L792,317.4 L790,318.1 L789,317.2 L787,317.9 L786,317 L784,317.7 L783,316.8 L781,317.6 L780,316.7 L778,317.4 L777,316.5 L775,317.2 L774,316.3 L772,317 L771,316.1 L769,316.8 L768,315.9 L766,316.7 L765,315.8 L763,316.5 L762,315.6 L760,316.3 L759,315.4 L757,316.1 L756,315.2 L754,316 L753,315.1 L751,315.8 L750,314.9 L748,315.6 L747,314.7 L745,315.3 L744,314.4 L742,315.1 L741,314.2 L739,314.8 L738,313.9 L736,314.7 L735,313.8 L733,314.3 L732,313.4 L730,314.3 L729,313.4 L727,313.9 L726,313 L724,313.8 L723,313 L721,313.4 L720,312.5 L718,313.4 L717,312.5 L715,312.9 L714,312 L712,313 L711,312.1 L710,312 L709,312.4 L708,311.5 L706,312.6 L705,311.7 L704,311.5 L703,312 L702,311.1 L700,312.1 L698,311 L697,311.5 L696,310.6 L694,311.7 L693,310.8 L692,310.6 L691,311 L690,310.1 L688,311.3 L687,310.4 L686,310.1 L685,310.5 L684,309.7 L682,310.9 L680,309.6 L679,310.1 L678,309.2 L676,310.4 L675,309.5 L674,309.2 L673,309.6 L672,308.7 L670,310 L669,309.1 L668,308.7 L667,309.1 L666,308.2 L664,309.6 L662,308.2 L661,308.7 L660,307.8 L658,309.2 L656,307.8 L655,308.2 L654,307.4 L652,308.7 L650,307.3 L649,307.7 L648,307 L646,308.3 L644,306.9 L643,307.3 L642,306.6 L640,307.9 L638,306.5 L637,306.9 L636,306.2 L634,307.5 L632,306.1 L631,306.5 L630,305.8 L628,307.1 L626,305.7 L625,306.1 L624,305.5 L622,306.7 L620,305.3 L619,305.7 L618,305.1 L616,306.3 L614,304.9 L613,305.3 L612,304.7 L610,305.9 L608,304.5 L607,304.9 L606,304.3 L604,305.6 L602,304.1 L601,304.5 L600,303.9 L598,305.2 L596,303.7 L595,304.1 L594,303.5 L592,304.8 L590,303.3 L589,303.7 L588,303.1 L586,304.4 L584,303 L583,303.3 L582,302.7 L580,304 L578,302.6 L577,302.9 L576,302.3 L574,303.6 L572,302.2 L571,302.5 L570,302 L568,303.2 L566,301.8 L565,302.1 L564,301.6 L562,302.8 L560,301.4 L559,301.7 L558,301.2 L556,302.4 L554,301 L553,301.3 L552,300.8 L550,302 L548,300.7 L547,301 L546,300.5 L544,301.7 L543,300.8 L542,300.4 L541,300.7 L540,300.1 L538,301.3 L537,300.4 L535,300.4 L534,299.8 L532,300.9 L531,300 L529,300.1 L528,299.4 L526,300.6 L525,299.7 L523,299.8 L522,299 L520,300.2 L519,299.3 L517,299.5 L516,298.7 L514,299.9 L513,299 L511,299.2 L510,298.3 L508,299.5 L507,298.6 L505,298.9 L504,298 L502,299.1 L501,298.2 L499,298.5 L498,297.7 L496,298.8 L495,297.9 L493,298.2 L492,297.3 L490,298.4 L489,297.5 L487,297.9 L486,297 L484,298 L483,297.1 L481,297.6 L480,296.7 L478,297.7 L477,296.8 L475,297.3 L474,296.4 L472,297.3 L471,296.4 L469,297 L468,296.1 L466,297 L465,296.1 L463,296.7 L462,295.8 L460,296.6 L459,295.7 L457,296.4 L456,295.5 L454,296.2 L453,295.3 L451,295.9 L450,295 L448,295.6 L447,294.7 L445,295.1 L444,294.2 L442,294.9 L441,294 L439,294.4 L438,293.5 L436,294.2 L435,293.3 L433,293.7 L432,292.8 L430,293.5 L429,292.6 L427,292.9 L426,292 L424,292.8 L423,291.9 L421,292.2 L420,291.3 L418,292.2 L417,291.3 L415,291.4 L414,290.5 L412,291.5 L411,290.6 L409,290.7 L408,289.8 L407,290.6 L406,290.8 L405,289.9 L403,290 L402,289.1 L401,290 L400,290.1 L399,289.2 L397,289.2 L396,288.4 L395,289.3 L394,289.4 L393,288.5 L391,288.5 L390,287.7 L389,288.6 L388,288.7 L387,287.8 L385,287.7 L384,287 L383,287.9 L382,288.1 L381,287.2 L379,287 L378,286.4 L377,287.3 L376,287.4 L375,286.5 L372,285.7 L371,286.6 L370,286.7 L369,285.8 L366,285 L365,285.9 L364,286 L362,284.7 L360,284.3 L359,285.2 L358,285.3 L356,283.9 L354,283.7 L353,284.6 L352,284.6 L348,281.6 L346,281.9 L342,278.9 L340,279 L336,276.2 L334,276.1 L332,274.3 L331,274.4 L329,273.2 L328,273.2 L326,271.6 L325,271.7 L321,269.5 L319,269.9 L318,269 L317,269.8 L316,269.8 L315,268.9 L314,269.8 L313,269.8 L312,268.9 L311,269.8 L310,269.8 L309,268.9 L308,269.7 L307,269.8 L306,268.9 L305,269.7 L304,269.7 L303,268.8 L302,269.7 L301,269.7 L300,268.8 L299,269.7 L298,269.7 L297,268.8 L296,269.7 L295,269.7 L294,268.8 L293,269.6 L292,269.6 L291,268.8 L290,269.6 L289,269.6 L288,268.7 L287,269.6 L286,269.6 L285,268.7 L284,269.6 L283,269.6 L282,268.7 L281,269.6 L280,269.6 L257,249 Z"/>
<g><use href="#hC" x="281" y="372"/>
<use href="#hC" x="287.3" y="372"/>
<use href="#hC" x="293.6" y="368.6"/>
<use href="#hC" x="299.9" y="368.8"/>
<use href="#hC" x="306.2" y="369"/>
<use href="#hC" x="312.5" y="369.2"/>
<use href="#hC" x="318.8" y="369.4"/>
<use href="#hC" x="325.1" y="369.6"/>
<use href="#hC" x="331.4" y="369.8"/>
<use href="#hC" x="337.6" y="370"/>
<use href="#hC" x="343.9" y="370.3"/>
<use href="#hC" x="350.2" y="370.5"/>
<use href="#hC" x="356.5" y="370.7"/>
<use href="#hC" x="362.8" y="370.9"/>
<use href="#hC" x="369.1" y="371.1"/>
<use href="#hC" x="375.4" y="371.3"/>
<use href="#hC" x="381.7" y="371.5"/>
<use href="#hC" x="388" y="371.8"/>
<use href="#hC" x="394.3" y="372"/>
<use href="#hC" x="400.6" y="372.2"/>
<use href="#hC" x="406.9" y="372.4"/>
<use href="#hC" x="413.2" y="372.6"/>
<use href="#hC" x="419.5" y="372.8"/>
<use href="#hC" x="425.8" y="372.8"/>
<use href="#hC" x="432.1" y="372.7"/>
<use href="#hC" x="438.4" y="366.6"/>
<use href="#hC" x="444.7" y="367"/>
<use href="#hC" x="450.9" y="367.4"/>
<use href="#hC" x="457.2" y="367.7"/>
<use href="#hC" x="463.5" y="368.1"/>
<use href="#hC" x="469.8" y="368.5"/>
<use href="#hC" x="476.1" y="368.8"/>
<use href="#hC" x="482.4" y="369.2"/>
<use href="#hC" x="488.7" y="369.5"/>
<use href="#hC" x="495" y="369.9"/>
<use href="#hC" x="501.3" y="370.3"/>
<use href="#hC" x="507.6" y="370.6"/>
<use href="#hC" x="513.9" y="371"/>
<use href="#hC" x="520.2" y="371.3"/>
<use href="#hC" x="526.5" y="371.7"/>
<use href="#hC" x="532.8" y="372.1"/>
<use href="#hC" x="539.1" y="372.4"/>
<use href="#hC" x="545.4" y="372.8"/>
<use href="#hC" x="551.7" y="372.8"/>
<use href="#hC" x="558" y="370.2"/>
<use href="#hC" x="564.2" y="367.7"/>
<use href="#hC" x="570.5" y="368.1"/>
<use href="#hC" x="576.8" y="368.5"/>
<use href="#hC" x="583.1" y="368.8"/>
<use href="#hC" x="589.4" y="369.2"/>
<use href="#hC" x="595.7" y="369.6"/>
<use href="#hC" x="602" y="369.9"/>
<use href="#hC" x="608.3" y="370.3"/>
<use href="#hC" x="614.6" y="370.7"/>
<use href="#hC" x="620.9" y="371"/>
<use href="#hC" x="627.2" y="371.4"/>
<use href="#hC" x="633.5" y="371.7"/>
<use href="#hC" x="639.8" y="372.1"/>
<use href="#hC" x="646.1" y="372.5"/>
<use href="#hC" x="652.4" y="372.7"/>
<use href="#hC" x="658.7" y="372.7"/>
<use href="#hC" x="665" y="371.9"/>
<use href="#hC" x="671.2" y="366.5"/>
<use href="#hC" x="677.5" y="367"/>
<use href="#hC" x="683.8" y="367.5"/>
<use href="#hC" x="690.1" y="368"/>
<use href="#hC" x="696.4" y="368.5"/>
<use href="#hC" x="702.7" y="369"/>
<use href="#hC" x="709" y="369.5"/>
<use href="#hC" x="715.3" y="370"/>
<use href="#hC" x="721.6" y="370.5"/>
<use href="#hC" x="727.9" y="371"/>
<use href="#hC" x="734.2" y="371.5"/>
<use href="#hC" x="740.5" y="372"/>
<use href="#hC" x="746.8" y="372.5"/>
<use href="#hC" x="753.1" y="373"/>
<use href="#hC" x="759.4" y="373.3"/>
<use href="#hC" x="765.7" y="373.5"/>
<use href="#hC" x="772" y="373.6"/>
<use href="#hC" x="778.3" y="373.8"/>
<use href="#hC" x="784.5" y="373.9"/>
<use href="#hC" x="790.8" y="374.1"/>
<use href="#hC" x="797.1" y="374.3"/>
<use href="#hC" x="803.4" y="374.4"/>
<use href="#hC" x="809.7" y="374.6"/>
<use href="#hC" x="816" y="374.7"/>
<use href="#hC" x="822.3" y="374.9"/>
<use href="#hC" x="828.6" y="375.1"/>
<use href="#hC" x="834.9" y="375.2"/>
<use href="#hC" x="841.2" y="375.4"/>
<use href="#hC" x="847.5" y="375.6"/>
<use href="#hC" x="853.8" y="375.7"/>
<use href="#hC" x="860.1" y="375.9"/>
<use href="#hC" x="866.4" y="376"/>
<use href="#hC" x="872.7" y="376.1"/>
<use href="#hC" x="879" y="376.3"/>
<use href="#hC" x="885.3" y="376.4"/>
<use href="#hC" x="891.6" y="376.5"/>
<use href="#hC" x="897.8" y="376.6"/>
<use href="#hC" x="904.1" y="376.8"/>
<use href="#hC" x="910.4" y="376.9"/>
<use href="#hC" x="916.7" y="377"/>
<use href="#hC" x="923" y="377.1"/>
<use href="#hC" x="929.3" y="377.3"/>
<use href="#hC" x="935.6" y="377.4"/>
<use href="#hC" x="941.9" y="377.5"/>
<use href="#hC" x="948.2" y="377.6"/>
<use href="#hC" x="954.5" y="377.8"/>
<use href="#hC" x="960.8" y="377.9"/>
<use href="#hC" x="967.1" y="378"/>
<use href="#hC" x="973.4" y="378.2"/>
<use href="#hC" x="979.7" y="378.3"/>
<use href="#hC" x="986" y="378.5"/>
<use href="#hC" x="992.3" y="378.6"/>
<use href="#hC" x="998.6" y="378.8"/>
<use href="#hC" x="1004.9" y="378.9"/>
<use href="#hC" x="1011.1" y="379.1"/>
<use href="#hC" x="1017.4" y="379.2"/>
<use href="#hC" x="1023.7" y="379.4"/>
<use href="#hC" x="1030" y="379.5"/>
<use href="#hC" x="1036.3" y="379.7"/>
<use href="#hC" x="1042.6" y="379.8"/>
<use href="#hC" x="1048.9" y="380"/>
<use href="#hC" x="1055.2" y="380.1"/>
<use href="#hC" x="1061.5" y="380.2"/>
<use href="#hC" x="1067.8" y="380.4"/>
<use href="#hC" x="1074.1" y="380.5"/>
<use href="#hC" x="1080.4" y="380.6"/>
<use href="#hC" x="1086.7" y="380.8"/>
<use href="#hC" x="1093" y="380.9"/>
<use href="#hC" x="1099.3" y="381"/>
<use href="#hC" x="1105.6" y="381.2"/>
<use href="#hC" x="1111.9" y="381.3"/>
<use href="#hC" x="1118.1" y="381.4"/>
<use href="#hC" x="1124.4" y="381.6"/>
<use href="#hC" x="1130.7" y="381.7"/>
<use href="#hC" x="1137" y="381.8"/>
<use href="#hC" x="1143.3" y="382"/>
<use href="#hC" x="1149.6" y="382.1"/>
<use href="#hC" x="1155.9" y="382.2"/>
<use href="#hC" x="1162.2" y="382.3"/>
<use href="#hC" x="1168.5" y="382.5"/>
<use href="#hC" x="1174.8" y="382.6"/>
<use href="#hC" x="1181.1" y="382.7"/>
<use href="#hC" x="1187.4" y="382.9"/>
<use href="#hC" x="1193.7" y="383"/>
<use href="#hC" x="1200" y="383.1"/>
<use href="#hC" x="1206.3" y="383.3"/>
<use href="#hC" x="1212.6" y="383.4"/>
<use href="#hC" x="1218.9" y="383.5"/>
<use href="#hC" x="1225.2" y="383.7"/>
<use href="#hC" x="1231.4" y="383.8"/>
<use href="#hC" x="1237.7" y="383.9"/>
<use href="#hC" x="1244" y="384"/>
<use href="#hC" x="1250.3" y="384.2"/>
<use href="#hC" x="1256.6" y="384.3"/>
<use href="#hC" x="1262.9" y="384.5"/>
<use href="#hC" x="1269.2" y="384.8"/>
<use href="#hC" x="1275.5" y="385.1"/>
<use href="#hC" x="1281.8" y="385.4"/>
<use href="#hC" x="1288.1" y="385.8"/>
<use href="#hC" x="1294.4" y="386.1"/>
<use href="#hC" x="1300.7" y="386.4"/>
<use href="#hC" x="1307" y="391.7"/>
<use href="#hC" x="1313.3" y="395.6"/>
<use href="#hC" x="1319.6" y="388.6"/>
<use href="#hC" x="1325.9" y="387.9"/>
<use href="#hC" x="1332.2" y="387.9"/>
<use href="#hC" x="1338.5" y="387.8"/>
<use href="#hC" x="1344.7" y="387.7"/>
<use href="#hC" x="1351" y="387.7"/>
<use href="#hC" x="1357.3" y="387.6"/>
<use href="#hC" x="1363.6" y="387.5"/>
<use href="#hC" x="1369.9" y="387.5"/>
<use href="#hC" x="1376.2" y="387.5"/>
<use href="#hC" x="1382.5" y="387.5"/>
<use href="#hC" x="1388.8" y="387.5"/>
<use href="#hC" x="1395.1" y="387.5"/>
<use href="#hC" x="1401.4" y="387.5"/>
<use href="#hC" x="1407.7" y="387.5"/>
<use href="#hC" x="1414" y="387.5"/>
<use href="#hC" x="1420.3" y="387.5"/>
<use href="#hC" x="1426.6" y="387.5"/>
<use href="#hC" x="1432.9" y="387.5"/>
<use href="#hC" x="1439.2" y="387.5"/>
<use href="#hC" x="1445.5" y="387.5"/>
<use href="#hC" x="1451.8" y="387.5"/>
<use href="#hC" x="1458" y="387.4"/>
<use href="#hC" x="1464.3" y="387.4"/>
<use href="#hC" x="1470.6" y="387.3"/>
<use href="#hC" x="1476.9" y="387.2"/>
<use href="#hC" x="1483.2" y="387.2"/>
<use href="#hC" x="1489.5" y="387.1"/>
<use href="#hC" x="1495.8" y="387"/>
<use href="#hC" x="1502.1" y="387"/>
<use href="#hC" x="1508.4" y="386.9"/>
<use href="#hC" x="1514.7" y="386.9"/>
<use href="#hC" x="1521" y="386.8"/>
<use href="#hC" x="1527.3" y="386.7"/>
<use href="#hC" x="1533.6" y="386.7"/>
<use href="#hC" x="1539.9" y="386.6"/>
<use href="#hC" x="1546.2" y="386.5"/>
<use href="#hC" x="1552.5" y="386.5"/>
<use href="#hC" x="1558.8" y="386.4"/>
<use href="#hC" x="1565" y="386.3"/>
<use href="#hC" x="1571.3" y="386.3"/>
<use href="#hC" x="1577.6" y="386.2"/>
<use href="#hC" x="1583.9" y="386.2"/>
<use href="#hC" x="1590.2" y="386.1"/>
<use href="#hC" x="1596.5" y="386"/>
<use href="#hC" x="1602.8" y="386"/>
<use href="#hC" x="1609.1" y="385.9"/>
<use href="#hC" x="1615.4" y="385.9"/>
<use href="#hC" x="1621.7" y="385.9"/>
<use href="#hC" x="1628" y="385.8"/>
<use href="#hC" x="1634.3" y="385.8"/>
<use href="#hC" x="1640.6" y="385.7"/>
<use href="#hC" x="1646.9" y="385.7"/>
<use href="#hC" x="1653.2" y="385.7"/>
<use href="#hC" x="1659.5" y="385.6"/>
<use href="#hC" x="1665.8" y="385.6"/>
<use href="#hC" x="1672.1" y="385.6"/>
<use href="#hC" x="1678.3" y="385.5"/>
<use href="#hC" x="1684.6" y="385.5"/>
<use href="#hC" x="1690.9" y="385.4"/>
<use href="#hC" x="1697.2" y="385.4"/>
<use href="#hC" x="1703.5" y="385.4"/>
<use href="#hC" x="1709.8" y="385.3"/>
<use href="#hC" x="1716.1" y="385.3"/>
<use href="#hC" x="1722.4" y="385.2"/>
<use href="#hC" x="1728.7" y="385.2"/>
<use href="#hC" x="1735" y="385.2"/>
<use href="#hC" x="1741.3" y="385.1"/>
<use href="#hC" x="1747.6" y="385.1"/>
<use href="#hC" x="1753.9" y="385"/>
<use href="#hC" x="1760.2" y="385"/>
<use href="#hC" x="1766.5" y="385"/>
<use href="#hC" x="1772.8" y="384.9"/>
<use href="#hC" x="1779.1" y="384.9"/>
<use href="#hC" x="1785.4" y="384.9"/>
<use href="#hC" x="1791.6" y="384.8"/>
<use href="#hC" x="1797.9" y="384.8"/>
<use href="#hC" x="1804.2" y="384.7"/>
<use href="#hC" x="1810.5" y="384.7"/>
<use href="#hC" x="1816.8" y="384.7"/>
<use href="#hC" x="1823.1" y="384.6"/>
<use href="#hC" x="1829.4" y="384.6"/>
<use href="#hC" x="1835.7" y="384.5"/>
<use href="#hC" x="1842" y="384.5"/></g>
<path fill="#008000" d="M261.3,180 L262.3,174.7 L263.3,172.5 L267.3,167.8 L270.3,165.7 L274.3,163.9 L278.3,163 L282.3,162.7 L457.3,175.3 L558.3,180.2 L654.3,184.2 L731.3,185.6 L854.3,183 L941.3,184.7 L1043.3,186.1 L1088.3,185.3 L1135.3,188.3 L1206.3,182.6 L1215.3,182.3 L1219.3,182.8 L1249.3,189.7 L1267.3,195.1 L1310.3,191.4 L1349.3,186.9 L1358.3,186.4 L1400.3,193.4 L1449.3,195.3 L1505.3,188.1 L1562.3,185.2 L1569.3,185.3 L1613.3,188.7 L1622.3,190.9 L1637.3,195.7 L1641.3,196.6 L1679.3,191.9 L1745.3,185.3 L1796.3,182.7 L1833.3,184.1 L1846.3,185.2 L1850.3,186 L1856.3,188.8 L1860.3,192.4 L1863.3,197.8 L1864,202.3 L1864,202.3 L1863.3,206.8 L1861.3,210.9 L1858.3,214.3 L1855.3,216.4 L1852.3,217.9 L1848.3,219.1 L1831.3,221.7 L1743.3,224.2 L1683.3,227.3 L1641.3,231.5 L1632.3,230.8 L1607.3,225.1 L1566.3,221.8 L1513.3,230.3 L1506.3,231.1 L1485.3,231.9 L1451.3,234.9 L1394.3,229.8 L1355.3,223.1 L1307.3,226.4 L1268.3,232.7 L1264.3,232.9 L1244.3,232 L1235.3,230 L1208.3,219 L1173.3,219.9 L1136.3,222.9 L1088.3,220.9 L1049.3,222 L935.3,224 L854.3,220 L731.3,225 L646.3,222.8 L352.3,203.1 L279.3,197.2 L272.3,195.3 L269.3,193.7 L266.3,191.3 L264.3,189 L262.3,185.3 L261.3,180 Z"/>
</g>
<filter id="soft2" filterUnits="userSpaceOnUse" x="0" y="0" width="1957" height="1279"><feGaussianBlur stdDeviation="0.85"/></filter>
<g filter="url(#soft2)">
<g id="axes" stroke="#000" stroke-width="6.5" fill="none">
<path stroke-width="7.5" stroke-linecap="square" d="M250.2,54.3 H1915.5"/>
<path stroke-width="8.6" stroke-linecap="square" d="M250.2,1074.8 H1915.5"/>
<path stroke-width="8" stroke-linecap="square" d="M250.2,54.3 V1074.3"/>
<path stroke-width="8.4" stroke-linecap="square" d="M1915.5,54.3 V1074.3"/>
<line stroke-width="7" x1="220" y1="1074.3" x2="250.2" y2="1074.3"/>
<line stroke-width="7" x1="234" y1="972.3" x2="250.2" y2="972.3"/>
<line stroke-width="7" x1="220" y1="870.3" x2="250.2" y2="870.3"/>
<line stroke-width="7" x1="234" y1="768.3" x2="250.2" y2="768.3"/>
<line stroke-width="7" x1="220" y1="666.3" x2="250.2" y2="666.3"/>
<line stroke-width="7" x1="234" y1="564.3" x2="250.2" y2="564.3"/>
<line stroke-width="7" x1="220" y1="462.3" x2="250.2" y2="462.3"/>
<line stroke-width="7" x1="234" y1="360.3" x2="250.2" y2="360.3"/>
<line stroke-width="7" x1="220" y1="258.3" x2="250.2" y2="258.3"/>
<line stroke-width="7" x1="234" y1="156.3" x2="250.2" y2="156.3"/>
<line stroke-width="7" x1="220" y1="54.3" x2="250.2" y2="54.3"/>
<line stroke-width="8" x1="281.8" y1="1074.3" x2="281.8" y2="1098"/>
<line stroke-width="8" x1="360.3" y1="1074.3" x2="360.3" y2="1087.5"/>
<line stroke-width="8" x1="438.8" y1="1074.3" x2="438.8" y2="1098"/>
<line stroke-width="8" x1="517.3" y1="1074.3" x2="517.3" y2="1087.5"/>
<line stroke-width="8" x1="595.8" y1="1074.3" x2="595.8" y2="1098"/>
<line stroke-width="8" x1="674.3" y1="1074.3" x2="674.3" y2="1087.5"/>
<line stroke-width="8" x1="752.8" y1="1074.3" x2="752.8" y2="1098"/>
<line stroke-width="8" x1="831.3" y1="1074.3" x2="831.3" y2="1087.5"/>
<line stroke-width="8" x1="909.8" y1="1074.3" x2="909.8" y2="1098"/>
<line stroke-width="8" x1="988.3" y1="1074.3" x2="988.3" y2="1087.5"/>
<line stroke-width="8" x1="1066.8" y1="1074.3" x2="1066.8" y2="1098"/>
<line stroke-width="8" x1="1145.3" y1="1074.3" x2="1145.3" y2="1087.5"/>
<line stroke-width="8" x1="1223.8" y1="1074.3" x2="1223.8" y2="1098"/>
<line stroke-width="8" x1="1302.3" y1="1074.3" x2="1302.3" y2="1087.5"/>
<line stroke-width="8" x1="1380.8" y1="1074.3" x2="1380.8" y2="1098"/>
<line stroke-width="8" x1="1459.3" y1="1074.3" x2="1459.3" y2="1087.5"/>
<line stroke-width="8" x1="1537.8" y1="1074.3" x2="1537.8" y2="1098"/>
<line stroke-width="8" x1="1616.3" y1="1074.3" x2="1616.3" y2="1087.5"/>
<line stroke-width="8" x1="1694.8" y1="1074.3" x2="1694.8" y2="1098"/>
<line stroke-width="8" x1="1773.3" y1="1074.3" x2="1773.3" y2="1087.5"/>
<line stroke-width="8" x1="1851.8" y1="1074.3" x2="1851.8" y2="1098"/>
</g>
<g id="ticklabels">
<text transform="translate(207.5,1089.8) scale(1.1,1)" text-anchor="end" font-size="57.7" >0</text>
<text transform="translate(207.5,885.8) scale(1.1,1)" text-anchor="end" font-size="57.7" >20</text>
<text transform="translate(207.5,681.8) scale(1.1,1)" text-anchor="end" font-size="57.7" >40</text>
<text transform="translate(207.5,477.8) scale(1.1,1)" text-anchor="end" font-size="57.7" >60</text>
<text transform="translate(207.5,273.8) scale(1.1,1)" text-anchor="end" font-size="57.7" >80</text>
<text transform="translate(207.5,69.8) scale(1.1,1)" text-anchor="end" font-size="57.7" >100</text>
<text transform="translate(282.6,1151.4) scale(1.1,1)" text-anchor="middle" font-size="57.7" >0</text>
<text transform="translate(439.6,1151.4) scale(1.1,1)" text-anchor="middle" font-size="57.7" >5</text>
<text transform="translate(596.6,1151.4) scale(1.1,1)" text-anchor="middle" font-size="57.7" >10</text>
<text transform="translate(753.6,1151.4) scale(1.1,1)" text-anchor="middle" font-size="57.7" >15</text>
<text transform="translate(910.6,1151.4) scale(1.1,1)" text-anchor="middle" font-size="57.7" >20</text>
<text transform="translate(1067.6,1151.4) scale(1.1,1)" text-anchor="middle" font-size="57.7" >25</text>
<text transform="translate(1224.6,1151.4) scale(1.1,1)" text-anchor="middle" font-size="57.7" >30</text>
<text transform="translate(1381.6,1151.4) scale(1.1,1)" text-anchor="middle" font-size="57.7" >35</text>
<text transform="translate(1538.6,1151.4) scale(1.1,1)" text-anchor="middle" font-size="57.7" >40</text>
<text transform="translate(1695.6,1151.4) scale(1.1,1)" text-anchor="middle" font-size="57.7" >45</text>
<text transform="translate(1852.6,1151.4) scale(1.1,1)" text-anchor="middle" font-size="57.7" >50</text>
<text transform="translate(1172.8,1243.6) scale(1.163,1)" text-anchor="middle" font-size="71" >Time (hour)</text>
<text transform="translate(77.4,605) rotate(-90) scale(1,1.217)" text-anchor="middle" font-size="59.45">Conversion (%)</text>
</g>
<g id="legend">
<line x1="980.5" y1="768.2" x2="1120.5" y2="768.2" stroke="#1c1c96" stroke-width="4"/>
<line x1="1148.5" y1="768.2" x2="1289.5" y2="768.2" stroke="#1c1c96" stroke-width="4"/>
<g stroke="#000080" stroke-width="2.2" stroke-linejoin="miter">
<polygon fill="#fff" points="1050.3,747 1073.8,780.5 1026.8,780.5"/>
<polygon fill="#000080" points="1050.3,747 1073.8,780.5 1050.3,780.5"/>
</g>
<g fill="#000080">
<polygon points="1218.8,747 1242.3,780.5 1195.3,780.5"/>
</g>
<line x1="980.5" y1="848.2" x2="1120.5" y2="848.2" stroke="#5a5a5a" stroke-width="4"/>
<line x1="1148.5" y1="848.2" x2="1289.5" y2="848.2" stroke="#5a5a5a" stroke-width="4"/>
<g stroke="#000" stroke-width="2.2" stroke-linejoin="miter">
<polygon fill="#fff" points="1050.3,828.6 1055.5,841.9 1071.2,842.1 1058.7,850.6 1063.2,864.1 1050.3,856 1037.4,864.1 1041.9,850.6 1029.4,842.1 1045.1,841.9"/>
<polygon fill="#000" clip-path="url(#cr)" transform="translate(1050.3,848.2)" points="0,-19.6 5.2,-6.3 20.9,-6.1 8.4,2.4 12.9,15.9 0,7.8 -12.9,15.9 -8.4,2.4 -20.9,-6.1 -5.2,-6.3"/>
</g>
<g fill="#000">
<polygon points="1218.8,828.6 1224,841.9 1239.7,842.1 1227.2,850.6 1231.7,864.1 1218.8,856 1205.9,864.1 1210.4,850.6 1197.9,842.1 1213.6,841.9"/>
</g>
<line x1="980.5" y1="927.4" x2="1120.5" y2="927.4" stroke="#8c1414" stroke-width="4"/>
<line x1="1148.5" y1="927.4" x2="1289.5" y2="927.4" stroke="#8c1414" stroke-width="4"/>
<g stroke="#800000" stroke-width="2.2" stroke-linejoin="miter">
<polygon fill="#fff" points="1050.3,906.4 1073.8,927.4 1050.3,948.4 1026.8,927.4"/>
<polygon fill="#800000" points="1050.3,906.4 1073.8,927.4 1050.3,948.4"/>
</g>
<g fill="#800000">
<polygon points="1218.8,906.4 1242.3,927.4 1218.8,948.4 1195.3,927.4"/>
</g>
<line x1="980.5" y1="1006.6" x2="1120.5" y2="1006.6" stroke="#1e961e" stroke-width="4"/>
<line x1="1148.5" y1="1006.6" x2="1289.5" y2="1006.6" stroke="#1e961e" stroke-width="4"/>
<g stroke="#008000" stroke-width="2.2" stroke-linejoin="miter">
<ellipse fill="#fff" cx="1050.3" cy="1006.6" rx="19.5" ry="16.3"/>
<path fill="#008000" d="M1050.3,990.3 A19.5,16.3 0 0 1 1050.3,1022.9 Z"/>
</g>
<g fill="#008000">
<ellipse cx="1218.8" cy="1006.6" rx="20.5" ry="17.3"/>
</g>
<text transform="translate(1000.3,705.5) scale(1.19,1)" font-size="50"><tspan>CO</tspan><tspan font-size="30" dy="21">2</tspan></text>
<text transform="translate(1158.3,705.5) scale(1.19,1)" font-size="50"><tspan>C</tspan><tspan font-size="30" dy="21">3</tspan><tspan dy="-21">H</tspan><tspan font-size="30" dy="21">8</tspan></text>
<text transform="translate(1303.5,784.9) scale(1.19,1)" font-size="50"><tspan>SrNiO</tspan><tspan font-size="30" dy="21">3</tspan><tspan dy="-21">/</tspan><tspan font-weight="normal" font-family="Liberation Serif, serif">γ</tspan><tspan dx="-3.2">-Al</tspan><tspan font-size="30" dy="21">2</tspan><tspan dy="-21">O</tspan><tspan font-size="30" dy="21">3</tspan><tspan dy="-21">(F)</tspan></text>
<text transform="translate(1303.5,864.9) scale(1.19,1)" font-size="50"><tspan>SrNiO</tspan><tspan font-size="30" dy="21">3</tspan><tspan dy="-21">/</tspan><tspan font-weight="normal" font-family="Liberation Serif, serif">γ</tspan><tspan dx="-3.2">-Al</tspan><tspan font-size="30" dy="21">2</tspan><tspan dy="-21">O</tspan><tspan font-size="30" dy="21">3</tspan><tspan dy="-21">(R)</tspan></text>
<text transform="translate(1303.5,944.1) scale(1.19,1)" font-size="50"><tspan>SrNiO</tspan><tspan font-size="30" dy="21">3</tspan><tspan dy="-21">/NiF(F)</tspan></text>
<text transform="translate(1303.5,1023.8) scale(1.19,1)" font-size="50"><tspan>SrNiO</tspan><tspan font-size="30" dy="21">3</tspan><tspan dy="-21">/NiF(R)</tspan></text>
</g>
</g>
</svg>
</body></html>
